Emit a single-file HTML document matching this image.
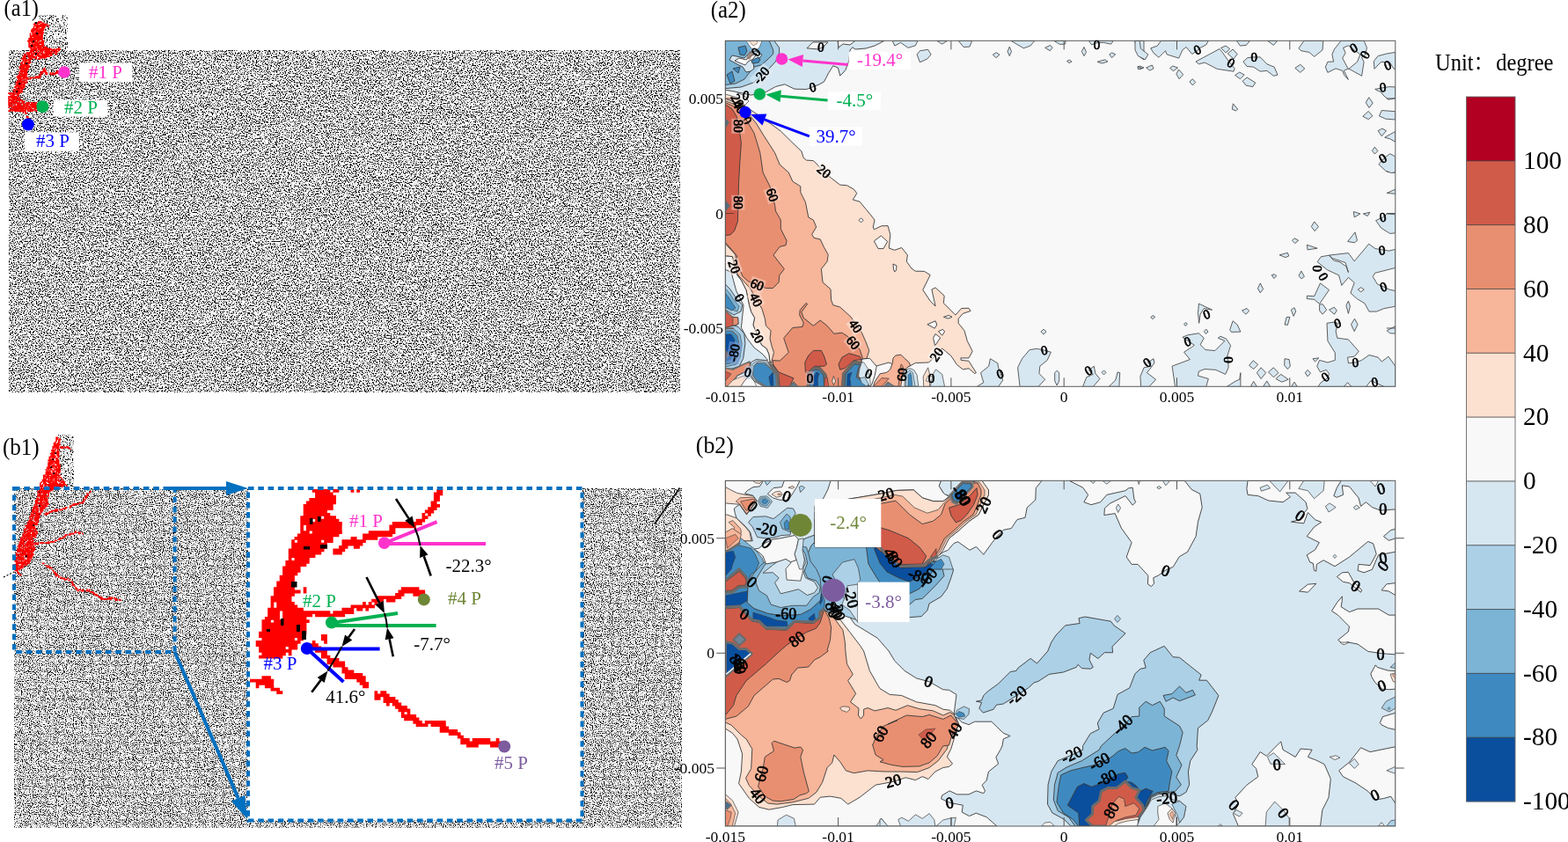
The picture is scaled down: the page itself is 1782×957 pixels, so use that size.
<!DOCTYPE html>
<html lang="en"><head><meta charset="utf-8"><title>Crack propagation and principal stress direction</title>
<style>
html,body{margin:0;padding:0;background:#fff;}
body{width:1782px;height:957px;overflow:hidden;font-family:"Liberation Serif","Noto Serif CJK SC",serif;}
svg{display:block;position:absolute;left:0;top:0;}
text{font-family:"Liberation Serif","Noto Serif CJK SC",serif;}
</style></head><body>
<svg width="1782" height="957" viewBox="0 0 1782 957">
<!-- base -->
<defs>
<filter id="nzA" x="0" y="0" width="100%" height="100%" filterUnits="objectBoundingBox" color-interpolation-filters="sRGB">
  <feTurbulence type="fractalNoise" baseFrequency="0.7" numOctaves="2" seed="7" result="t"/>
  <feColorMatrix in="t" type="matrix" values="7 0 0 0 -2.5  7 0 0 0 -2.5  7 0 0 0 -2.5  0 0 0 0 1"/>
</filter>
<filter id="nzB" x="0" y="0" width="100%" height="100%" filterUnits="objectBoundingBox" color-interpolation-filters="sRGB">
  <feTurbulence type="fractalNoise" baseFrequency="0.9" numOctaves="2" seed="23" result="t"/>
  <feColorMatrix in="t" type="matrix" values="5 0 0 0 -1.58  5 0 0 0 -1.58  5 0 0 0 -1.58  0 0 0 0 1"/>
</filter>
<filter id="nzC" x="0" y="0" width="100%" height="100%" filterUnits="objectBoundingBox" color-interpolation-filters="sRGB">
  <feTurbulence type="fractalNoise" baseFrequency="0.62" numOctaves="2" seed="3" result="t"/>
  <feColorMatrix in="t" type="matrix" values="7 0 0 0 -2.3  7 0 0 0 -2.3  7 0 0 0 -2.3  0 0 0 0 1"/>
</filter>
</defs><rect x="0" y="0" width="1782" height="957" fill="#fff"/><text transform="translate(4.6,17.8) scale(1,1.15)" font-size="24.5">(a1)</text><text transform="translate(807.7,19.5) scale(1,1.06)" font-size="24.9">(a2)</text><text transform="translate(2.9,517) scale(1,1.1)" font-size="25.1">(b1)</text><text transform="translate(790.8,514.7) scale(1,1.03)" font-size="25.8">(b2)</text><rect x="1666.5" y="110.00" width="55.5" height="73.12" fill="#b20022"/><rect x="1666.5" y="182.82" width="55.5" height="73.12" fill="#d15b49"/><rect x="1666.5" y="255.64" width="55.5" height="73.12" fill="#e98f71"/><rect x="1666.5" y="328.45" width="55.5" height="73.12" fill="#f7b599"/><rect x="1666.5" y="401.27" width="55.5" height="73.12" fill="#fce0d0"/><rect x="1666.5" y="474.09" width="55.5" height="73.12" fill="#f8f8f8"/><rect x="1666.5" y="546.91" width="55.5" height="73.12" fill="#d7e7f1"/><rect x="1666.5" y="619.73" width="55.5" height="73.12" fill="#acd0e6"/><rect x="1666.5" y="692.55" width="55.5" height="73.12" fill="#7cb4d6"/><rect x="1666.5" y="765.36" width="55.5" height="73.12" fill="#3e8ac0"/><rect x="1666.5" y="838.18" width="55.5" height="73.12" fill="#0a4e9e"/><line x1="1666.5" y1="182.82" x2="1722" y2="182.82" stroke="#3a3a3a" stroke-width="0.8"/><line x1="1666.5" y1="255.64" x2="1722" y2="255.64" stroke="#3a3a3a" stroke-width="0.8"/><line x1="1666.5" y1="328.45" x2="1722" y2="328.45" stroke="#3a3a3a" stroke-width="0.8"/><line x1="1666.5" y1="401.27" x2="1722" y2="401.27" stroke="#3a3a3a" stroke-width="0.8"/><line x1="1666.5" y1="474.09" x2="1722" y2="474.09" stroke="#3a3a3a" stroke-width="0.8"/><line x1="1666.5" y1="546.91" x2="1722" y2="546.91" stroke="#3a3a3a" stroke-width="0.8"/><line x1="1666.5" y1="619.73" x2="1722" y2="619.73" stroke="#3a3a3a" stroke-width="0.8"/><line x1="1666.5" y1="692.55" x2="1722" y2="692.55" stroke="#3a3a3a" stroke-width="0.8"/><line x1="1666.5" y1="765.36" x2="1722" y2="765.36" stroke="#3a3a3a" stroke-width="0.8"/><line x1="1666.5" y1="838.18" x2="1722" y2="838.18" stroke="#3a3a3a" stroke-width="0.8"/><rect x="1666.5" y="110" width="55.5" height="801" fill="none" stroke="#666" stroke-width="0.9"/><text x="1731" y="192.0" font-size="29.3" fill="#000">100</text><text x="1731" y="264.8" font-size="29.3" fill="#000">80</text><text x="1731" y="337.7" font-size="29.3" fill="#000">60</text><text x="1731" y="410.5" font-size="29.3" fill="#000">40</text><text x="1731" y="483.3" font-size="29.3" fill="#000">20</text><text x="1731" y="556.1" font-size="29.3" fill="#000">0</text><text x="1731" y="628.9" font-size="29.3" fill="#000">-20</text><text x="1731" y="701.7" font-size="29.3" fill="#000">-40</text><text x="1731" y="774.6" font-size="29.3" fill="#000">-60</text><text x="1731" y="847.4" font-size="29.3" fill="#000">-80</text><text x="1731" y="920.2" font-size="29.3" fill="#000">-100</text><g transform="translate(0,80.3) scale(1,1.11)" font-size="24.5" fill="#000"><text x="1631" y="0" xml:space="preserve">Unit：<tspan x="1700.2">degree</tspan></text></g>
<!-- left_a1 -->
<rect x="10" y="57" width="763" height="389" fill="#fff" filter="url(#nzA)"/><g filter="url(#nzC)"><polygon points="45,17 72,18 77,30 77,50 70,45 60,57 44,57" fill="#fff"/></g><path d="M43.1 24.1h4.4v1.80h-4.4zM39.0 25.4h7.0v1.80h-7.0zM47.2 25.4h3.0v1.80h-3.0zM37.7 26.8h3.0v1.80h-3.0zM41.8 26.8h1.7v1.80h-1.7zM45.8 26.8h8.4v1.80h-8.4zM39.0 28.1h13.8v1.80h-13.8zM53.9 28.1h1.7v1.80h-1.7zM37.7 29.5h1.7v1.80h-1.7zM40.4 29.5h11.1v1.80h-11.1zM53.9 29.5h1.7v1.80h-1.7zM37.7 30.8h1.7v1.80h-1.7zM40.4 30.8h4.4v1.80h-4.4zM47.2 30.8h4.4v1.80h-4.4zM36.4 32.1h7.0v1.80h-7.0zM44.5 32.1h5.7v1.80h-5.7zM35.0 33.5h15.2v1.80h-15.2zM35.0 34.9h4.4v1.80h-4.4zM40.4 34.9h8.4v1.80h-8.4zM36.4 36.2h1.7v1.80h-1.7zM39.0 36.2h3.0v1.80h-3.0zM43.1 36.2h7.0v1.80h-7.0zM33.7 37.5h1.7v1.80h-1.7zM36.4 37.5h12.5v1.80h-12.5zM33.7 38.9h1.7v1.80h-1.7zM36.4 38.9h8.4v1.80h-8.4zM45.8 38.9h3.0v1.80h-3.0zM33.7 40.2h15.2v1.80h-15.2zM33.7 41.6h3.0v1.80h-3.0zM37.7 41.6h11.1v1.80h-11.1zM32.3 43.0h16.5v1.80h-16.5zM32.3 44.3h16.5v1.80h-16.5zM31.0 45.7h9.8v1.80h-9.8zM41.8 45.7h3.0v1.80h-3.0zM47.2 45.7h3.0v1.80h-3.0zM32.3 47.0h1.7v1.80h-1.7zM35.0 47.0h8.4v1.80h-8.4zM44.5 47.0h5.7v1.80h-5.7zM32.3 48.4h3.0v1.80h-3.0zM36.4 48.4h1.7v1.80h-1.7zM39.0 48.4h11.1v1.80h-11.1zM32.3 49.7h1.7v1.80h-1.7zM35.0 49.7h9.8v1.80h-9.8zM47.2 49.7h3.0v1.80h-3.0zM32.3 51.0h17.9v1.80h-17.9zM32.3 52.4h8.4v1.80h-8.4zM41.8 52.4h7.0v1.80h-7.0zM49.9 52.4h3.0v1.80h-3.0zM33.7 53.8h3.0v1.80h-3.0zM37.7 53.8h9.8v1.80h-9.8zM48.5 53.8h7.0v1.80h-7.0zM66.1 53.8h1.7v1.80h-1.7zM35.0 55.1h7.0v1.80h-7.0zM43.1 55.1h16.5v1.80h-16.5zM60.7 55.1h1.7v1.80h-1.7zM63.4 55.1h5.7v1.80h-5.7zM33.7 56.5h5.7v1.80h-5.7zM40.4 56.5h3.0v1.80h-3.0zM44.5 56.5h5.7v1.80h-5.7zM51.2 56.5h5.7v1.80h-5.7zM58.0 56.5h7.0v1.80h-7.0zM66.1 56.5h1.7v1.80h-1.7zM33.7 57.8h4.4v1.80h-4.4zM40.4 57.8h1.7v1.80h-1.7zM44.5 57.8h4.4v1.80h-4.4zM49.9 57.8h8.4v1.80h-8.4zM59.3 57.8h1.7v1.80h-1.7zM62.0 57.8h4.4v1.80h-4.4zM29.6 59.2h7.0v1.80h-7.0zM37.7 59.2h8.4v1.80h-8.4zM47.2 59.2h1.7v1.80h-1.7zM51.2 59.2h8.4v1.80h-8.4zM60.7 59.2h1.7v1.80h-1.7zM63.4 59.2h1.7v1.80h-1.7zM26.9 60.5h1.7v1.80h-1.7zM29.6 60.5h4.4v1.80h-4.4zM35.0 60.5h9.8v1.80h-9.8zM45.8 60.5h13.8v1.80h-13.8zM62.0 60.5h3.0v1.80h-3.0zM26.9 61.9h3.0v1.80h-3.0zM31.0 61.9h7.0v1.80h-7.0zM41.8 61.9h4.4v1.80h-4.4zM47.2 61.9h8.4v1.80h-8.4zM56.6 61.9h3.0v1.80h-3.0zM25.6 63.2h4.4v1.80h-4.4zM31.0 63.2h8.4v1.80h-8.4zM40.4 63.2h1.7v1.80h-1.7zM43.1 63.2h13.8v1.80h-13.8zM25.6 64.6h4.4v1.80h-4.4zM32.3 64.6h3.0v1.80h-3.0zM36.4 64.6h5.7v1.80h-5.7zM44.5 64.6h8.4v1.80h-8.4zM24.2 65.9h5.7v1.80h-5.7zM32.3 65.9h4.4v1.80h-4.4zM40.4 65.9h1.7v1.80h-1.7zM43.1 65.9h3.0v1.80h-3.0zM25.6 67.2h1.7v1.80h-1.7zM28.2 67.2h7.0v1.80h-7.0zM25.6 68.6h5.7v1.80h-5.7zM32.3 68.6h1.7v1.80h-1.7zM24.2 70.0h1.7v1.80h-1.7zM28.2 70.0h1.7v1.80h-1.7zM31.0 70.0h4.4v1.80h-4.4zM22.9 71.3h3.0v1.80h-3.0zM26.9 71.3h4.4v1.80h-4.4zM32.3 71.3h1.7v1.80h-1.7zM24.2 72.7h8.4v1.80h-8.4zM22.9 74.0h11.1v1.80h-11.1zM21.5 75.3h7.0v1.80h-7.0zM29.6 75.3h4.4v1.80h-4.4zM21.5 76.7h1.7v1.80h-1.7zM24.2 76.7h8.4v1.80h-8.4zM49.9 76.7h1.7v1.80h-1.7zM22.9 78.1h3.0v1.80h-3.0zM26.9 78.1h5.7v1.80h-5.7zM48.5 78.1h3.0v1.80h-3.0zM22.9 79.4h8.4v1.80h-8.4zM48.5 79.4h4.4v1.80h-4.4zM64.7 79.4h1.7v1.80h-1.7zM21.5 80.8h9.8v1.80h-9.8zM45.8 80.8h7.0v1.80h-7.0zM63.4 80.8h4.4v1.80h-4.4zM21.5 82.1h1.7v1.80h-1.7zM24.2 82.1h1.7v1.80h-1.7zM26.9 82.1h4.4v1.80h-4.4zM45.8 82.1h3.0v1.80h-3.0zM51.2 82.1h3.0v1.80h-3.0zM56.6 82.1h1.7v1.80h-1.7zM59.3 82.1h1.7v1.80h-1.7zM62.0 82.1h4.4v1.80h-4.4zM21.5 83.5h9.8v1.80h-9.8zM44.5 83.5h3.0v1.80h-3.0zM51.2 83.5h3.0v1.80h-3.0zM56.6 83.5h7.0v1.80h-7.0zM20.1 84.8h3.0v1.80h-3.0zM24.2 84.8h7.0v1.80h-7.0zM44.5 84.8h3.0v1.80h-3.0zM18.8 86.2h11.1v1.80h-11.1zM40.4 86.2h5.7v1.80h-5.7zM18.8 87.5h5.7v1.80h-5.7zM25.6 87.5h7.0v1.80h-7.0zM33.7 87.5h12.5v1.80h-12.5zM20.1 88.9h8.4v1.80h-8.4zM29.6 88.9h3.0v1.80h-3.0zM33.7 88.9h1.7v1.80h-1.7zM20.1 90.2h1.7v1.80h-1.7zM22.9 90.2h1.7v1.80h-1.7zM28.2 90.2h1.7v1.80h-1.7zM18.8 91.6h9.8v1.80h-9.8zM29.6 91.6h1.7v1.80h-1.7zM17.5 92.9h7.0v1.80h-7.0zM25.6 92.9h5.7v1.80h-5.7zM18.8 94.2h7.0v1.80h-7.0zM26.9 94.2h1.7v1.80h-1.7zM17.5 95.6h11.1v1.80h-11.1zM17.5 97.0h7.0v1.80h-7.0zM25.6 97.0h3.0v1.80h-3.0zM16.1 98.3h3.0v1.80h-3.0zM20.1 98.3h8.4v1.80h-8.4zM17.5 99.7h3.0v1.80h-3.0zM21.5 99.7h5.7v1.80h-5.7zM14.8 101.0h1.7v1.80h-1.7zM17.5 101.0h5.7v1.80h-5.7zM24.2 101.0h1.7v1.80h-1.7zM14.8 102.4h3.0v1.80h-3.0zM20.1 102.4h5.7v1.80h-5.7zM16.1 103.7h9.8v1.80h-9.8zM9.3 105.1h7.0v1.80h-7.0zM17.5 105.1h5.7v1.80h-5.7zM10.7 106.4h1.7v1.80h-1.7zM13.4 106.4h4.4v1.80h-4.4zM18.8 106.4h3.0v1.80h-3.0zM12.1 107.8h4.4v1.80h-4.4zM18.8 107.8h3.0v1.80h-3.0zM9.3 109.1h11.1v1.80h-11.1zM9.3 110.5h1.7v1.80h-1.7zM12.1 110.5h7.0v1.80h-7.0zM20.1 110.5h3.0v1.80h-3.0zM9.3 111.8h3.0v1.80h-3.0zM13.4 111.8h9.8v1.80h-9.8zM9.3 113.2h7.0v1.80h-7.0zM17.5 113.2h8.4v1.80h-8.4zM9.3 114.5h1.7v1.80h-1.7zM12.1 114.5h7.0v1.80h-7.0zM21.5 114.5h1.7v1.80h-1.7zM24.2 114.5h4.4v1.80h-4.4zM9.3 115.9h12.5v1.80h-12.5zM24.2 115.9h3.0v1.80h-3.0zM29.6 115.9h4.4v1.80h-4.4zM35.0 115.9h3.0v1.80h-3.0zM39.0 115.9h3.0v1.80h-3.0zM9.3 117.2h3.0v1.80h-3.0zM14.8 117.2h1.7v1.80h-1.7zM18.8 117.2h5.7v1.80h-5.7zM25.6 117.2h3.0v1.80h-3.0zM29.6 117.2h4.4v1.80h-4.4zM35.0 117.2h5.7v1.80h-5.7zM9.3 118.6h5.7v1.80h-5.7zM16.1 118.6h1.7v1.80h-1.7zM18.8 118.6h5.7v1.80h-5.7zM25.6 118.6h7.0v1.80h-7.0zM33.7 118.6h8.4v1.80h-8.4zM10.7 119.9h3.0v1.80h-3.0zM14.8 119.9h9.8v1.80h-9.8zM25.6 119.9h3.0v1.80h-3.0zM29.6 119.9h4.4v1.80h-4.4zM35.0 119.9h7.0v1.80h-7.0zM9.3 121.2h1.7v1.80h-1.7zM13.4 121.2h4.4v1.80h-4.4zM18.8 121.2h8.4v1.80h-8.4zM28.2 121.2h3.0v1.80h-3.0zM32.3 121.2h3.0v1.80h-3.0zM36.4 121.2h7.0v1.80h-7.0zM12.1 122.6h1.7v1.80h-1.7zM14.8 122.6h21.9v1.80h-21.9zM39.0 122.6h3.0v1.80h-3.0zM10.7 124.0h11.1v1.80h-11.1zM22.9 124.0h4.4v1.80h-4.4zM28.2 124.0h1.7v1.80h-1.7zM31.0 124.0h1.7v1.80h-1.7zM33.7 124.0h7.0v1.80h-7.0zM9.3 125.3h3.0v1.80h-3.0zM13.4 125.3h1.7v1.80h-1.7zM16.1 125.3h13.8v1.80h-13.8zM31.0 125.3h7.0v1.80h-7.0zM40.4 125.3h1.7v1.80h-1.7zM25.6 126.7h1.7v1.80h-1.7zM28.2 126.7h1.7v1.80h-1.7zM28.2 128.0h3.0v1.80h-3.0zM29.6 132.1h3.0v1.80h-3.0zM31.0 133.4h1.7v1.80h-1.7zM31.0 134.8h1.7v1.80h-1.7zM31.0 136.1h1.7v1.80h-1.7z" fill="#ff0000"/><rect x="40" y="25" width="2.2" height="2.2" fill="#000"/><rect x="41" y="37" width="2.2" height="2.2" fill="#000"/><rect x="37" y="46" width="2.2" height="2.2" fill="#000"/><rect x="40" y="60" width="2.2" height="2.2" fill="#000"/><rect x="21" y="94" width="2.2" height="2.2" fill="#000"/><rect x="18" y="103" width="2.2" height="2.2" fill="#000"/><rect x="35" y="51" width="2.2" height="2.2" fill="#000"/><rect x="29" y="71" width="2.2" height="2.2" fill="#000"/><circle cx="73" cy="82" r="6.8" fill="#ff33cc"/><circle cx="48.4" cy="121.3" r="7" fill="#00b050"/><circle cx="32" cy="141.5" r="7" fill="#0000ff"/><rect x="90" y="71.5" width="60.400000000000006" height="21.700000000000003" fill="#fff"/><text x="101" y="88.8" font-size="21" fill="#ff33cc" xml:space="preserve">#1 P</text><rect x="60.6" y="113.5" width="61.699999999999996" height="19.0" fill="#fff"/><text x="73" y="128.7" font-size="21" fill="#00b050" xml:space="preserve">#2 P</text><rect x="28" y="150.5" width="61.8" height="21.30000000000001" fill="#fff"/><text x="41" y="167.4" font-size="21" fill="#0000ff" xml:space="preserve">#3 P</text>
<!-- left_b1 -->
<rect x="16" y="555" width="759" height="386" fill="#fff" filter="url(#nzB)"/><g filter="url(#nzC)"><polygon points="70,495 79,494 84,515 84,547 80,556 66,556 68,520" fill="#fff"/></g><line x1="772.5" y1="554.5" x2="744" y2="595.5" stroke="#000" stroke-width="1.6"/><line x1="4" y1="656" x2="16" y2="650" stroke="#000" stroke-width="1.2" stroke-dasharray="2 2"/><path d="M63.3 496.6h2.9v1.75h-2.9zM63.3 497.9h2.9v1.75h-2.9zM67.2 497.9h1.6v1.75h-1.6zM63.3 499.2h1.6v1.75h-1.6zM65.9 499.2h2.9v1.75h-2.9zM63.3 500.5h1.6v1.75h-1.6zM65.9 500.5h1.6v1.75h-1.6zM62.0 501.8h1.6v1.75h-1.6zM65.9 501.8h2.9v1.75h-2.9zM60.7 503.1h2.9v1.75h-2.9zM64.6 503.1h2.9v1.75h-2.9zM60.7 504.4h8.1v1.75h-8.1zM60.7 505.7h6.8v1.75h-6.8zM59.4 507.0h8.1v1.75h-8.1zM68.5 507.0h2.9v1.75h-2.9zM72.4 507.0h1.6v1.75h-1.6zM75.0 507.0h2.9v1.75h-2.9zM59.4 508.3h2.9v1.75h-2.9zM63.3 508.3h4.2v1.75h-4.2zM68.5 508.3h4.2v1.75h-4.2zM73.7 508.3h1.6v1.75h-1.6zM76.3 508.3h2.9v1.75h-2.9zM59.4 509.6h1.6v1.75h-1.6zM62.0 509.6h1.6v1.75h-1.6zM64.6 509.6h2.9v1.75h-2.9zM78.9 509.6h1.6v1.75h-1.6zM58.1 510.9h5.5v1.75h-5.5zM64.6 510.9h1.6v1.75h-1.6zM59.4 512.2h2.9v1.75h-2.9zM64.6 512.2h2.9v1.75h-2.9zM58.1 513.5h9.4v1.75h-9.4zM56.8 514.8h5.5v1.75h-5.5zM63.3 514.8h4.2v1.75h-4.2zM58.1 516.1h4.2v1.75h-4.2zM64.6 516.1h2.9v1.75h-2.9zM56.8 517.4h6.8v1.75h-6.8zM64.6 517.4h2.9v1.75h-2.9zM55.5 518.7h8.1v1.75h-8.1zM65.9 518.7h1.6v1.75h-1.6zM55.5 520.0h1.6v1.75h-1.6zM59.4 520.0h2.9v1.75h-2.9zM63.3 520.0h2.9v1.75h-2.9zM55.5 521.3h4.2v1.75h-4.2zM63.3 521.3h2.9v1.75h-2.9zM54.2 522.6h8.1v1.75h-8.1zM63.3 522.6h4.2v1.75h-4.2zM55.5 523.9h12.0v1.75h-12.0zM54.2 525.2h6.8v1.75h-6.8zM62.0 525.2h5.5v1.75h-5.5zM54.2 526.5h5.5v1.75h-5.5zM60.7 526.5h1.6v1.75h-1.6zM63.3 526.5h4.2v1.75h-4.2zM54.2 527.8h4.2v1.75h-4.2zM59.4 527.8h2.9v1.75h-2.9zM64.6 527.8h4.2v1.75h-4.2zM54.2 529.1h2.9v1.75h-2.9zM58.1 529.1h10.7v1.75h-10.7zM52.9 530.4h8.1v1.75h-8.1zM62.0 530.4h2.9v1.75h-2.9zM65.9 530.4h2.9v1.75h-2.9zM52.9 531.7h5.5v1.75h-5.5zM60.7 531.7h1.6v1.75h-1.6zM63.3 531.7h5.5v1.75h-5.5zM51.6 533.0h1.6v1.75h-1.6zM54.2 533.0h1.6v1.75h-1.6zM56.8 533.0h2.9v1.75h-2.9zM62.0 533.0h5.5v1.75h-5.5zM52.9 534.3h1.6v1.75h-1.6zM55.5 534.3h1.6v1.75h-1.6zM59.4 534.3h2.9v1.75h-2.9zM63.3 534.3h5.5v1.75h-5.5zM51.6 535.6h6.8v1.75h-6.8zM59.4 535.6h2.9v1.75h-2.9zM63.3 535.6h5.5v1.75h-5.5zM51.6 536.9h6.8v1.75h-6.8zM59.4 536.9h5.5v1.75h-5.5zM65.9 536.9h1.6v1.75h-1.6zM51.6 538.2h8.1v1.75h-8.1zM60.7 538.2h5.5v1.75h-5.5zM49.0 539.5h2.9v1.75h-2.9zM52.9 539.5h2.9v1.75h-2.9zM58.1 539.5h10.7v1.75h-10.7zM49.0 540.8h15.9v1.75h-15.9zM65.9 540.8h1.6v1.75h-1.6zM49.0 542.1h1.6v1.75h-1.6zM51.6 542.1h4.2v1.75h-4.2zM56.8 542.1h9.4v1.75h-9.4zM67.2 542.1h2.9v1.75h-2.9zM49.0 543.4h4.2v1.75h-4.2zM54.2 543.4h6.8v1.75h-6.8zM62.0 543.4h2.9v1.75h-2.9zM65.9 543.4h1.6v1.75h-1.6zM69.8 543.4h1.6v1.75h-1.6zM47.7 544.7h5.5v1.75h-5.5zM54.2 544.7h1.6v1.75h-1.6zM56.8 544.7h2.9v1.75h-2.9zM60.7 544.7h6.8v1.75h-6.8zM69.8 544.7h1.6v1.75h-1.6zM47.7 546.0h13.3v1.75h-13.3zM62.0 546.0h2.9v1.75h-2.9zM65.9 546.0h4.2v1.75h-4.2zM71.1 546.0h1.6v1.75h-1.6zM46.4 547.3h1.6v1.75h-1.6zM49.0 547.3h2.9v1.75h-2.9zM54.2 547.3h4.2v1.75h-4.2zM59.4 547.3h5.5v1.75h-5.5zM69.8 547.3h4.2v1.75h-4.2zM45.1 548.6h1.6v1.75h-1.6zM49.0 548.6h4.2v1.75h-4.2zM55.5 548.6h10.7v1.75h-10.7zM67.2 548.6h2.9v1.75h-2.9zM71.1 548.6h2.9v1.75h-2.9zM45.1 549.9h1.6v1.75h-1.6zM47.7 549.9h1.6v1.75h-1.6zM50.3 549.9h25.0v1.75h-25.0zM45.1 551.2h4.2v1.75h-4.2zM50.3 551.2h2.9v1.75h-2.9zM54.2 551.2h18.5v1.75h-18.5zM75.0 551.2h1.6v1.75h-1.6zM45.1 552.5h4.2v1.75h-4.2zM51.6 552.5h1.6v1.75h-1.6zM54.2 552.5h13.3v1.75h-13.3zM69.8 552.5h1.6v1.75h-1.6zM46.4 553.8h1.6v1.75h-1.6zM49.0 553.8h2.9v1.75h-2.9zM52.9 553.8h10.7v1.75h-10.7zM43.8 555.1h2.9v1.75h-2.9zM47.7 555.1h1.6v1.75h-1.6zM51.6 555.1h5.5v1.75h-5.5zM58.1 555.1h4.2v1.75h-4.2zM43.8 556.4h15.9v1.75h-15.9zM42.5 557.7h1.6v1.75h-1.6zM45.1 557.7h1.6v1.75h-1.6zM47.7 557.7h9.4v1.75h-9.4zM102.3 557.7h1.6v1.75h-1.6zM42.5 559.0h1.6v1.75h-1.6zM45.1 559.0h10.7v1.75h-10.7zM101.0 559.0h1.6v1.75h-1.6zM43.8 560.3h2.9v1.75h-2.9zM49.0 560.3h4.2v1.75h-4.2zM54.2 560.3h1.6v1.75h-1.6zM98.4 560.3h1.6v1.75h-1.6zM42.5 561.6h4.2v1.75h-4.2zM47.7 561.6h4.2v1.75h-4.2zM54.2 561.6h1.6v1.75h-1.6zM98.4 561.6h2.9v1.75h-2.9zM42.5 562.9h13.3v1.75h-13.3zM97.1 562.9h2.9v1.75h-2.9zM45.1 564.2h6.8v1.75h-6.8zM95.8 564.2h2.9v1.75h-2.9zM41.2 565.5h2.9v1.75h-2.9zM45.1 565.5h4.2v1.75h-4.2zM50.3 565.5h4.2v1.75h-4.2zM97.1 565.5h1.6v1.75h-1.6zM41.2 566.8h13.3v1.75h-13.3zM94.5 566.8h2.9v1.75h-2.9zM39.9 568.1h4.2v1.75h-4.2zM45.1 568.1h4.2v1.75h-4.2zM50.3 568.1h4.2v1.75h-4.2zM94.5 568.1h1.6v1.75h-1.6zM39.9 569.4h2.9v1.75h-2.9zM45.1 569.4h2.9v1.75h-2.9zM49.0 569.4h1.6v1.75h-1.6zM51.6 569.4h2.9v1.75h-2.9zM93.2 569.4h2.9v1.75h-2.9zM39.9 570.7h14.6v1.75h-14.6zM89.3 570.7h5.5v1.75h-5.5zM39.9 572.0h2.9v1.75h-2.9zM43.8 572.0h4.2v1.75h-4.2zM50.3 572.0h5.5v1.75h-5.5zM82.8 572.0h6.8v1.75h-6.8zM38.6 573.3h1.6v1.75h-1.6zM45.1 573.3h5.5v1.75h-5.5zM51.6 573.3h1.6v1.75h-1.6zM81.5 573.3h4.2v1.75h-4.2zM38.6 574.6h6.8v1.75h-6.8zM46.4 574.6h8.1v1.75h-8.1zM78.9 574.6h2.9v1.75h-2.9zM37.3 575.9h5.5v1.75h-5.5zM45.1 575.9h6.8v1.75h-6.8zM73.7 575.9h2.9v1.75h-2.9zM78.9 575.9h1.6v1.75h-1.6zM37.3 577.2h2.9v1.75h-2.9zM41.2 577.2h2.9v1.75h-2.9zM45.1 577.2h5.5v1.75h-5.5zM71.1 577.2h4.2v1.75h-4.2zM36.0 578.5h2.9v1.75h-2.9zM39.9 578.5h4.2v1.75h-4.2zM45.1 578.5h4.2v1.75h-4.2zM62.0 578.5h4.2v1.75h-4.2zM67.2 578.5h4.2v1.75h-4.2zM36.0 579.8h4.2v1.75h-4.2zM41.2 579.8h2.9v1.75h-2.9zM45.1 579.8h4.2v1.75h-4.2zM58.1 579.8h8.1v1.75h-8.1zM36.0 581.1h6.8v1.75h-6.8zM46.4 581.1h1.6v1.75h-1.6zM55.5 581.1h4.2v1.75h-4.2zM34.7 582.4h1.6v1.75h-1.6zM37.3 582.4h1.6v1.75h-1.6zM39.9 582.4h6.8v1.75h-6.8zM51.6 582.4h4.2v1.75h-4.2zM34.7 583.7h4.2v1.75h-4.2zM39.9 583.7h4.2v1.75h-4.2zM45.1 583.7h1.6v1.75h-1.6zM50.3 583.7h4.2v1.75h-4.2zM34.7 585.0h5.5v1.75h-5.5zM41.2 585.0h4.2v1.75h-4.2zM33.4 586.3h4.2v1.75h-4.2zM39.9 586.3h5.5v1.75h-5.5zM33.4 587.6h1.6v1.75h-1.6zM36.0 587.6h1.6v1.75h-1.6zM38.6 587.6h6.8v1.75h-6.8zM33.4 588.9h4.2v1.75h-4.2zM38.6 588.9h5.5v1.75h-5.5zM33.4 590.2h1.6v1.75h-1.6zM38.6 590.2h5.5v1.75h-5.5zM32.1 591.5h5.5v1.75h-5.5zM39.9 591.5h1.6v1.75h-1.6zM42.5 591.5h1.6v1.75h-1.6zM30.8 592.8h1.6v1.75h-1.6zM33.4 592.8h6.8v1.75h-6.8zM41.2 592.8h2.9v1.75h-2.9zM30.8 594.1h12.0v1.75h-12.0zM30.8 595.4h12.0v1.75h-12.0zM28.2 596.7h10.7v1.75h-10.7zM29.5 598.0h1.6v1.75h-1.6zM32.1 598.0h8.1v1.75h-8.1zM29.5 599.3h10.7v1.75h-10.7zM26.9 600.6h4.2v1.75h-4.2zM32.1 600.6h4.2v1.75h-4.2zM37.3 600.6h4.2v1.75h-4.2zM26.9 601.9h1.6v1.75h-1.6zM30.8 601.9h8.1v1.75h-8.1zM39.9 601.9h1.6v1.75h-1.6zM28.2 603.2h4.2v1.75h-4.2zM33.4 603.2h2.9v1.75h-2.9zM37.3 603.2h1.6v1.75h-1.6zM39.9 603.2h2.9v1.75h-2.9zM85.4 603.2h1.6v1.75h-1.6zM26.9 604.5h2.9v1.75h-2.9zM30.8 604.5h4.2v1.75h-4.2zM36.0 604.5h4.2v1.75h-4.2zM41.2 604.5h1.6v1.75h-1.6zM84.1 604.5h2.9v1.75h-2.9zM88.0 604.5h4.2v1.75h-4.2zM25.6 605.8h2.9v1.75h-2.9zM29.5 605.8h5.5v1.75h-5.5zM36.0 605.8h6.8v1.75h-6.8zM78.9 605.8h5.5v1.75h-5.5zM89.3 605.8h1.6v1.75h-1.6zM93.2 605.8h1.6v1.75h-1.6zM25.6 607.1h1.6v1.75h-1.6zM28.2 607.1h13.3v1.75h-13.3zM73.7 607.1h2.9v1.75h-2.9zM77.6 607.1h2.9v1.75h-2.9zM25.6 608.4h9.4v1.75h-9.4zM36.0 608.4h4.2v1.75h-4.2zM72.4 608.4h2.9v1.75h-2.9zM24.3 609.7h5.5v1.75h-5.5zM30.8 609.7h6.8v1.75h-6.8zM38.6 609.7h2.9v1.75h-2.9zM71.1 609.7h2.9v1.75h-2.9zM23.0 611.0h2.9v1.75h-2.9zM26.9 611.0h1.6v1.75h-1.6zM29.5 611.0h4.2v1.75h-4.2zM34.7 611.0h2.9v1.75h-2.9zM67.2 611.0h4.2v1.75h-4.2zM23.0 612.3h4.2v1.75h-4.2zM28.2 612.3h2.9v1.75h-2.9zM32.1 612.3h4.2v1.75h-4.2zM65.9 612.3h2.9v1.75h-2.9zM23.0 613.6h8.1v1.75h-8.1zM32.1 613.6h2.9v1.75h-2.9zM36.0 613.6h2.9v1.75h-2.9zM62.0 613.6h2.9v1.75h-2.9zM21.7 614.9h2.9v1.75h-2.9zM25.6 614.9h1.6v1.75h-1.6zM30.8 614.9h6.8v1.75h-6.8zM54.2 614.9h1.6v1.75h-1.6zM56.8 614.9h5.5v1.75h-5.5zM21.7 616.2h6.8v1.75h-6.8zM29.5 616.2h6.8v1.75h-6.8zM37.3 616.2h1.6v1.75h-1.6zM39.9 616.2h1.6v1.75h-1.6zM42.5 616.2h1.6v1.75h-1.6zM45.1 616.2h5.5v1.75h-5.5zM51.6 616.2h5.5v1.75h-5.5zM21.7 617.5h5.5v1.75h-5.5zM29.5 617.5h14.6v1.75h-14.6zM20.4 618.8h4.2v1.75h-4.2zM25.6 618.8h8.1v1.75h-8.1zM34.7 618.8h2.9v1.75h-2.9zM20.4 620.1h4.2v1.75h-4.2zM25.6 620.1h2.9v1.75h-2.9zM29.5 620.1h2.9v1.75h-2.9zM33.4 620.1h2.9v1.75h-2.9zM37.3 620.1h1.6v1.75h-1.6zM20.4 621.4h2.9v1.75h-2.9zM24.3 621.4h2.9v1.75h-2.9zM28.2 621.4h1.6v1.75h-1.6zM30.8 621.4h6.8v1.75h-6.8zM38.6 621.4h1.6v1.75h-1.6zM20.4 622.7h4.2v1.75h-4.2zM25.6 622.7h14.6v1.75h-14.6zM19.1 624.0h6.8v1.75h-6.8zM28.2 624.0h5.5v1.75h-5.5zM36.0 624.0h4.2v1.75h-4.2zM19.1 625.3h19.8v1.75h-19.8zM19.1 626.6h4.2v1.75h-4.2zM24.3 626.6h13.3v1.75h-13.3zM17.8 627.9h1.6v1.75h-1.6zM23.0 627.9h1.6v1.75h-1.6zM25.6 627.9h4.2v1.75h-4.2zM30.8 627.9h2.9v1.75h-2.9zM34.7 627.9h2.9v1.75h-2.9zM17.8 629.2h21.1v1.75h-21.1zM17.8 630.5h2.9v1.75h-2.9zM23.0 630.5h4.2v1.75h-4.2zM28.2 630.5h9.4v1.75h-9.4zM20.4 631.8h4.2v1.75h-4.2zM25.6 631.8h1.6v1.75h-1.6zM28.2 631.8h9.4v1.75h-9.4zM16.5 633.1h10.7v1.75h-10.7zM30.8 633.1h5.5v1.75h-5.5zM16.5 634.4h2.9v1.75h-2.9zM20.4 634.4h8.1v1.75h-8.1zM30.8 634.4h2.9v1.75h-2.9zM34.7 634.4h1.6v1.75h-1.6zM16.5 635.7h2.9v1.75h-2.9zM20.4 635.7h6.8v1.75h-6.8zM28.2 635.7h6.8v1.75h-6.8zM16.5 637.0h4.2v1.75h-4.2zM26.9 637.0h5.5v1.75h-5.5zM33.4 637.0h1.6v1.75h-1.6zM17.8 638.3h12.0v1.75h-12.0zM30.8 638.3h2.9v1.75h-2.9zM17.8 639.6h15.9v1.75h-15.9zM47.7 639.6h2.9v1.75h-2.9zM15.2 640.9h5.5v1.75h-5.5zM24.3 640.9h2.9v1.75h-2.9zM28.2 640.9h2.9v1.75h-2.9zM17.8 642.2h4.2v1.75h-4.2zM23.0 642.2h2.9v1.75h-2.9zM26.9 642.2h1.6v1.75h-1.6zM51.6 642.2h1.6v1.75h-1.6zM54.2 642.2h1.6v1.75h-1.6zM15.2 643.5h5.5v1.75h-5.5zM21.7 643.5h5.5v1.75h-5.5zM52.9 643.5h4.2v1.75h-4.2zM16.5 644.8h9.4v1.75h-9.4zM55.5 644.8h4.2v1.75h-4.2zM15.2 646.1h8.1v1.75h-8.1zM16.5 647.4h4.2v1.75h-4.2zM59.4 647.4h1.6v1.75h-1.6zM19.1 648.7h1.6v1.75h-1.6zM60.7 648.7h1.6v1.75h-1.6zM19.1 650.0h2.9v1.75h-2.9zM60.7 650.0h2.9v1.75h-2.9zM20.4 651.3h1.6v1.75h-1.6zM62.0 651.3h2.9v1.75h-2.9zM21.7 652.6h2.9v1.75h-2.9zM62.0 652.6h4.2v1.75h-4.2zM63.3 653.9h1.6v1.75h-1.6zM65.9 653.9h1.6v1.75h-1.6zM65.9 655.2h1.6v1.75h-1.6zM68.5 655.2h1.6v1.75h-1.6zM68.5 656.5h5.5v1.75h-5.5zM76.3 656.5h1.6v1.75h-1.6zM72.4 657.8h4.2v1.75h-4.2zM78.9 657.8h1.6v1.75h-1.6zM77.6 659.1h1.6v1.75h-1.6zM80.2 660.4h2.9v1.75h-2.9zM81.5 661.7h1.6v1.75h-1.6zM81.5 663.0h2.9v1.75h-2.9zM81.5 664.3h2.9v1.75h-2.9zM84.1 665.6h1.6v1.75h-1.6zM85.4 666.9h1.6v1.75h-1.6zM85.4 668.2h2.9v1.75h-2.9zM86.7 669.5h1.6v1.75h-1.6zM89.3 669.5h2.9v1.75h-2.9zM93.2 669.5h1.6v1.75h-1.6zM98.4 669.5h1.6v1.75h-1.6zM101.0 669.5h1.6v1.75h-1.6zM88.0 670.8h1.6v1.75h-1.6zM91.9 670.8h4.2v1.75h-4.2zM97.1 670.8h5.5v1.75h-5.5zM102.3 672.1h4.2v1.75h-4.2zM104.9 673.4h2.9v1.75h-2.9zM106.2 674.7h4.2v1.75h-4.2zM108.8 676.0h2.9v1.75h-2.9zM111.4 677.3h2.9v1.75h-2.9zM112.7 678.6h4.2v1.75h-4.2zM123.1 678.6h5.5v1.75h-5.5zM129.6 678.6h1.6v1.75h-1.6zM114.0 679.9h13.3v1.75h-13.3zM129.6 679.9h4.2v1.75h-4.2zM130.9 681.2h2.9v1.75h-2.9zM134.8 681.2h2.9v1.75h-2.9z" fill="#ff0000"/><rect x="62.2" y="514.2" width="1.8" height="1.8" fill="#000"/><rect x="57.2" y="530.2" width="1.8" height="1.8" fill="#000"/><rect x="60.2" y="537.2" width="1.8" height="1.8" fill="#000"/><rect x="44.2" y="574.2" width="1.8" height="1.8" fill="#000"/><rect x="37.2" y="596.2" width="1.8" height="1.8" fill="#000"/><rect x="29.2" y="631.2" width="1.8" height="1.8" fill="#000"/><rect x="59.2" y="521.2" width="1.8" height="1.8" fill="#000"/><rect x="51.2" y="555.2" width="1.8" height="1.8" fill="#000"/><rect x="16" y="555" width="182.6" height="186" fill="none" stroke="#0070c0" stroke-width="4" stroke-dasharray="6.6 4.7"/><rect x="282" y="555" width="379.5" height="377.5" fill="#fff"/><defs><clipPath id="cIn"><rect x="282" y="555" width="379.5" height="377.5"/></clipPath></defs><g clip-path="url(#cIn)"><path d="M354.8 556.0h20.5v3.82h-20.5zM378.4 556.0h7.0v3.82h-7.0zM398.6 556.0h3.7v3.82h-3.7zM405.3 556.0h3.7v3.82h-3.7zM496.3 556.0h7.0v3.82h-7.0zM358.1 559.4h20.5v3.82h-20.5zM492.9 559.4h10.4v3.82h-10.4zM358.1 562.7h23.9v3.82h-23.9zM492.9 562.7h7.0v3.82h-7.0zM351.4 566.1h30.6v3.82h-30.6zM492.9 566.1h7.0v3.82h-7.0zM348.0 569.5h34.0v3.82h-34.0zM489.6 569.5h7.0v3.82h-7.0zM344.7 572.9h34.0v3.82h-34.0zM489.6 572.9h10.4v3.82h-10.4zM344.7 576.2h34.0v3.82h-34.0zM486.2 576.2h10.4v3.82h-10.4zM344.7 579.6h27.3v3.82h-27.3zM482.8 579.6h10.4v3.82h-10.4zM344.7 583.0h30.6v3.82h-30.6zM479.5 583.0h3.7v3.82h-3.7zM486.2 583.0h3.7v3.82h-3.7zM341.3 586.3h23.9v3.82h-23.9zM368.2 586.3h13.8v3.82h-13.8zM479.5 586.3h7.0v3.82h-7.0zM341.3 589.7h13.8v3.82h-13.8zM358.1 589.7h27.3v3.82h-27.3zM472.7 589.7h10.4v3.82h-10.4zM341.3 593.1h47.5v3.82h-47.5zM445.8 593.1h34.0v3.82h-34.0zM341.3 596.4h3.7v3.82h-3.7zM348.0 596.4h40.7v3.82h-40.7zM442.4 596.4h30.6v3.82h-30.6zM341.3 599.8h3.7v3.82h-3.7zM348.0 599.8h40.7v3.82h-40.7zM442.4 599.8h7.0v3.82h-7.0zM341.3 603.2h10.4v3.82h-10.4zM354.8 603.2h34.0v3.82h-34.0zM418.8 603.2h30.6v3.82h-30.6zM337.9 606.5h47.5v3.82h-47.5zM412.1 606.5h34.0v3.82h-34.0zM334.6 609.9h44.1v3.82h-44.1zM398.6 609.9h7.0v3.82h-7.0zM412.1 609.9h17.2v3.82h-17.2zM331.2 613.3h3.7v3.82h-3.7zM337.9 613.3h27.3v3.82h-27.3zM368.2 613.3h10.4v3.82h-10.4zM388.5 613.3h27.3v3.82h-27.3zM331.2 616.7h40.7v3.82h-40.7zM388.5 616.7h23.9v3.82h-23.9zM331.2 620.0h40.7v3.82h-40.7zM385.1 620.0h10.4v3.82h-10.4zM401.9 620.0h7.0v3.82h-7.0zM327.8 623.4h40.7v3.82h-40.7zM378.4 623.4h13.8v3.82h-13.8zM327.8 626.8h37.4v3.82h-37.4zM378.4 626.8h10.4v3.82h-10.4zM327.8 630.1h30.6v3.82h-30.6zM327.8 633.5h3.7v3.82h-3.7zM334.6 633.5h17.2v3.82h-17.2zM324.4 636.9h27.3v3.82h-27.3zM324.4 640.2h23.9v3.82h-23.9zM321.1 643.6h20.5v3.82h-20.5zM321.1 647.0h20.5v3.82h-20.5zM321.1 650.4h17.2v3.82h-17.2zM317.7 653.7h17.2v3.82h-17.2zM317.7 657.1h17.2v3.82h-17.2zM314.3 660.5h20.5v3.82h-20.5zM314.3 663.8h20.5v3.82h-20.5zM311.0 667.2h23.9v3.82h-23.9zM344.7 667.2h3.7v3.82h-3.7zM455.9 667.2h20.5v3.82h-20.5zM311.0 670.6h30.6v3.82h-30.6zM344.7 670.6h3.7v3.82h-3.7zM452.5 670.6h30.6v3.82h-30.6zM311.0 674.0h23.9v3.82h-23.9zM449.1 674.0h10.4v3.82h-10.4zM469.4 674.0h13.8v3.82h-13.8zM307.6 677.3h23.9v3.82h-23.9zM428.9 677.3h27.3v3.82h-27.3zM476.1 677.3h7.0v3.82h-7.0zM307.6 680.7h23.9v3.82h-23.9zM422.2 680.7h13.8v3.82h-13.8zM439.0 680.7h10.4v3.82h-10.4zM307.6 684.1h3.7v3.82h-3.7zM314.3 684.1h20.5v3.82h-20.5zM412.1 684.1h3.7v3.82h-3.7zM418.8 684.1h3.7v3.82h-3.7zM425.5 684.1h3.7v3.82h-3.7zM307.6 687.4h3.7v3.82h-3.7zM314.3 687.4h23.9v3.82h-23.9zM398.6 687.4h27.3v3.82h-27.3zM304.2 690.8h40.7v3.82h-40.7zM388.5 690.8h13.8v3.82h-13.8zM405.3 690.8h7.0v3.82h-7.0zM415.4 690.8h3.7v3.82h-3.7zM304.2 694.2h13.8v3.82h-13.8zM321.1 694.2h54.2v3.82h-54.2zM378.4 694.2h23.9v3.82h-23.9zM304.2 697.5h13.8v3.82h-13.8zM321.1 697.5h34.0v3.82h-34.0zM358.1 697.5h34.0v3.82h-34.0zM300.9 700.9h17.2v3.82h-17.2zM321.1 700.9h27.3v3.82h-27.3zM297.5 704.3h10.4v3.82h-10.4zM311.0 704.3h40.7v3.82h-40.7zM297.5 707.6h50.9v3.82h-50.9zM297.5 711.0h50.9v3.82h-50.9zM297.5 714.4h50.9v3.82h-50.9zM294.1 717.8h54.2v3.82h-54.2zM294.1 721.1h50.9v3.82h-50.9zM364.9 721.1h7.0v3.82h-7.0zM297.5 724.5h37.4v3.82h-37.4zM337.9 724.5h7.0v3.82h-7.0zM364.9 724.5h7.0v3.82h-7.0zM290.7 727.9h50.9v3.82h-50.9zM354.8 727.9h3.7v3.82h-3.7zM368.2 727.9h3.7v3.82h-3.7zM290.7 731.2h47.5v3.82h-47.5zM351.4 731.2h10.4v3.82h-10.4zM294.1 734.6h30.6v3.82h-30.6zM327.8 734.6h10.4v3.82h-10.4zM354.8 734.6h10.4v3.82h-10.4zM294.1 738.0h37.4v3.82h-37.4zM358.1 738.0h13.8v3.82h-13.8zM297.5 741.4h27.3v3.82h-27.3zM327.8 741.4h3.7v3.82h-3.7zM364.9 741.4h7.0v3.82h-7.0zM294.1 744.7h27.3v3.82h-27.3zM364.9 744.7h10.4v3.82h-10.4zM371.6 748.1h13.8v3.82h-13.8zM371.6 751.5h20.5v3.82h-20.5zM378.4 754.8h13.8v3.82h-13.8zM388.5 758.2h7.0v3.82h-7.0zM388.5 761.6h13.8v3.82h-13.8zM391.8 764.9h20.5v3.82h-20.5zM297.5 768.3h10.4v3.82h-10.4zM391.8 768.3h23.9v3.82h-23.9zM284.0 771.7h27.3v3.82h-27.3zM405.3 771.7h10.4v3.82h-10.4zM290.7 775.0h20.5v3.82h-20.5zM408.7 775.0h10.4v3.82h-10.4zM290.7 778.4h3.7v3.82h-3.7zM300.9 778.4h10.4v3.82h-10.4zM412.1 778.4h7.0v3.82h-7.0zM307.6 781.8h10.4v3.82h-10.4zM314.3 785.2h7.0v3.82h-7.0zM425.5 785.2h3.7v3.82h-3.7zM432.3 785.2h7.0v3.82h-7.0zM425.5 788.5h17.2v3.82h-17.2zM425.5 791.9h7.0v3.82h-7.0zM435.6 791.9h13.8v3.82h-13.8zM435.6 795.3h17.2v3.82h-17.2zM439.0 798.6h3.7v3.82h-3.7zM445.8 798.6h10.4v3.82h-10.4zM449.1 802.0h13.8v3.82h-13.8zM452.5 805.4h13.8v3.82h-13.8zM455.9 808.8h3.7v3.82h-3.7zM462.6 808.8h3.7v3.82h-3.7zM455.9 812.1h17.2v3.82h-17.2zM459.2 815.5h17.2v3.82h-17.2zM469.4 818.9h10.4v3.82h-10.4zM482.8 818.9h23.9v3.82h-23.9zM472.7 822.2h13.8v3.82h-13.8zM489.6 822.2h17.2v3.82h-17.2zM499.7 825.6h10.4v3.82h-10.4zM499.7 829.0h20.5v3.82h-20.5zM509.8 832.3h13.8v3.82h-13.8zM519.9 835.7h7.0v3.82h-7.0zM523.3 839.1h10.4v3.82h-10.4zM536.8 839.1h20.5v3.82h-20.5zM563.7 839.1h3.7v3.82h-3.7zM523.3 842.5h47.5v3.82h-47.5zM530.0 845.8h13.8v3.82h-13.8zM557.0 845.8h10.4v3.82h-10.4z" fill="#ff0000"/><rect x="352" y="589" width="3.5" height="7" fill="#000"/><rect x="361" y="587" width="3.5" height="6" fill="#000"/><rect x="345" y="621" width="7" height="3.5" fill="#000"/><rect x="364" y="619" width="8" height="4.5" fill="#000"/><rect x="331" y="661" width="6.5" height="6.5" fill="#000"/><rect x="319" y="703" width="3.5" height="8" fill="#000"/><rect x="337" y="710" width="4" height="8" fill="#000"/><rect x="303" y="715" width="4" height="3" fill="#000"/><rect x="343" y="717" width="5" height="10" fill="#000"/><line x1="436.7" y1="618" x2="552" y2="618" stroke="#ff33cc" stroke-width="4"/><line x1="436.7" y1="617.5" x2="496.6" y2="593.2" stroke="#ff33cc" stroke-width="4"/><circle cx="436.7" cy="617.1" r="6.8" fill="#ff33cc"/><line x1="377" y1="711" x2="495.6" y2="711" stroke="#00b050" stroke-width="4"/><line x1="377" y1="708" x2="452" y2="697" stroke="#00b050" stroke-width="4"/><circle cx="376.9" cy="707.6" r="7" fill="#00b050"/><line x1="348.8" y1="737.4" x2="431.6" y2="737.4" stroke="#0000ff" stroke-width="4"/><line x1="348.8" y1="737" x2="390.4" y2="775" stroke="#0000ff" stroke-width="4"/><circle cx="348.8" cy="737" r="7" fill="#0000ff"/><circle cx="481.8" cy="681.4" r="7" fill="#6e8636"/><circle cx="573.2" cy="848.5" r="7" fill="#7c5c9e"/><line x1="450" y1="567" x2="464.4" y2="589.1" stroke="#000" stroke-width="2.6"/><polygon points="471.5,600.0 468.6,586.4 460.2,591.8" fill="#000"/><line x1="489.7" y1="654.5" x2="481.8" y2="632.3" stroke="#000" stroke-width="2.6"/><polygon points="477.5,620.0 477.1,633.9 486.5,630.6" fill="#000"/><path d="M471.5,600 Q476,610 477.5,620" fill="none" stroke="#000" stroke-width="2"/><line x1="416.5" y1="656" x2="431.2" y2="685.4" stroke="#000" stroke-width="2.6"/><polygon points="437.0,697.0 435.7,683.1 426.7,687.6" fill="#000"/><line x1="446.8" y1="746.3" x2="442.6" y2="726.2" stroke="#000" stroke-width="2.6"/><polygon points="440.0,713.5 437.7,727.2 447.5,725.2" fill="#000"/><path d="M437,697 Q439.5,705 440,713.5" fill="none" stroke="#000" stroke-width="2"/><line x1="403" y1="715" x2="396.1" y2="724.5" stroke="#000" stroke-width="2.6"/><polygon points="388.5,735.0 400.2,727.4 392.1,721.5" fill="#000"/><line x1="354.2" y1="786.7" x2="364.7" y2="772.9" stroke="#000" stroke-width="2.6"/><polygon points="372.5,762.5 360.7,769.9 368.6,775.9" fill="#000"/><path d="M388.5,735 Q381,749 372.5,762.5" fill="none" stroke="#000" stroke-width="2"/><text x="397" y="598.6" font-size="21" fill="#ff33cc" xml:space="preserve">#1 P</text><text x="344" y="689.8" font-size="21" fill="#00b050" xml:space="preserve">#2 P</text><text x="299.5" y="761.4" font-size="21" fill="#0000ff" xml:space="preserve">#3 P</text><text x="509" y="687.3" font-size="21" fill="#6e8636" xml:space="preserve">#4 P</text><text x="562" y="874.3" font-size="21" fill="#7c5c9e" xml:space="preserve">#5 P</text><text x="506.5" y="650.3" font-size="21" fill="#000" xml:space="preserve">-22.3°</text><text x="470.3" y="738.7" font-size="21" fill="#000" xml:space="preserve">-7.7°</text><text x="370.2" y="798.5" font-size="21" fill="#000" xml:space="preserve">41.6°</text></g><rect x="282" y="555" width="379.5" height="377.5" fill="none" stroke="#0070c0" stroke-width="4" stroke-dasharray="6.6 4.7"/><line x1="190" y1="555" x2="262" y2="555" stroke="#0070c0" stroke-width="4"/><polygon points="282,555 257,547 257,563" fill="#0070c0"/><line x1="198.6" y1="741" x2="270.7" y2="907.1" stroke="#0070c0" stroke-width="4"/><polygon points="281.0,931.0 278.5,903.8 262.9,910.5" fill="#0070c0"/>
<!-- a2 -->
<defs><clipPath id="cA2"><rect x="824.3" y="46.3" width="761.5" height="393.0"/></clipPath></defs><rect x="824.3" y="46.3" width="761.5" height="393.0" fill="#f8f8f8"/><g clip-path="url(#cA2)"><polygon points="824.3,112 846,120 862,131 875,140 887.3,149 898.6,160.2 910.9,172 913.2,179.3 916.5,182.1 924.4,182.6 928.9,187.1 936.2,195.6 944.6,202.3 954.7,210.1 962.5,210.7 970.4,215.2 973.8,219.7 969.3,227 977.1,229.2 985,238.8 991.7,247 994,250.1 992.3,258 993.4,260.8 1001.8,256.8 1009,256.6 1011.8,266.4 1010.3,282.1 1016.8,284.3 1024.7,281.5 1031.4,289.9 1030.3,297.2 1035.9,305.1 1040.4,308.2 1050.5,308.4 1057.2,312.6 1048.8,329.5 1057.2,342.1 1063.1,348 1058.9,329 1063.1,326.9 1073.2,336.2 1072.4,344.6 1085.9,358.1 1092.6,350.5 1101,350.2 1103,353.5 1094.3,356.4 1089.2,362.3 1089.2,367.3 1096,375.8 1099.3,387.5 1105.2,399.3 1101,406.9 1091.8,406.9 1092.3,409.4 1101,410.3 1109.4,423.7 1107.7,424.6 1101,418.7 1094.3,419.9 1087.5,414.5 1080.8,404.4 1070.7,396 1063.1,404.4 1055.6,412 1040.4,412.5 1033.7,416.2 1025,418 1010,412 996,416 985,407.3 975,408 875,411.8 873.9,402.8 871.1,396.1 865.5,392.2 861,382.1 855.9,369.2 857.6,361.3 853.7,354.6 851.4,346.7 850.3,341 848,329.8 842.4,318.6 838,313 835.2,302.9 832.3,291.6 824.3,291" fill="#fce0d0" stroke="#3a3a3a" stroke-width="0.9" stroke-linejoin="round"/><polygon points="976.1,250.3 978.6,247.8 981.1,250.3 978.6,252.8" fill="#f8f8f8" stroke="#3a3a3a" stroke-width="0.9" stroke-linejoin="round"/><polygon points="993.4,274 1001.3,268 1008.6,274.5 1004,282.6 998,282.6" fill="#f8f8f8" stroke="#3a3a3a" stroke-width="0.9" stroke-linejoin="round"/><polygon points="1015,300 1019,302 1018.5,307 1016.8,309 1015.5,306" fill="#f8f8f8" stroke="#3a3a3a" stroke-width="0.9" stroke-linejoin="round"/><polygon points="1053.9,368.7 1063.1,364.8 1064.8,369 1062.3,373.2" fill="#f8f8f8" stroke="#3a3a3a" stroke-width="0.9" stroke-linejoin="round"/><polygon points="1066.5,376.6 1071.5,374.4 1073.6,376.9 1070.7,381.3" fill="#f8f8f8" stroke="#3a3a3a" stroke-width="0.9" stroke-linejoin="round"/><polygon points="1060.6,384.2 1063.1,379.5 1068.7,383.8 1062.6,393.1" fill="#f8f8f8" stroke="#3a3a3a" stroke-width="0.9" stroke-linejoin="round"/><polygon points="1072.4,360.3 1078.3,358.4 1082,360.3 1077.4,362" fill="#f8f8f8" stroke="#3a3a3a" stroke-width="0.9" stroke-linejoin="round"/><polygon points="824.3,114.5 843,122 852,131 859.3,140 868.3,154.6 880.6,173.7 886.2,187.1 896.3,196.1 900.8,206.2 909.8,211.8 909.8,218.6 915.4,229.8 918.8,247 924.4,250.1 927.7,258 922.7,266.4 924.9,270.3 932.2,272 936.7,281.5 941.2,289.4 940.1,297.2 933.4,305.7 935,320.8 944,328.7 944.6,341 946.8,346.7 954.7,349 967,360.2 972.6,368.6 979.4,378.2 983.9,388.3 987.8,398.4 985,407.3 980.5,408.5 980,439.3 878,439.3 876.7,411.8 879.5,400.6 877.2,393.9 875,384.9 876.1,375.9 870.5,370.3 869.4,362.4 866,351.2 862,344 859.8,341 853.7,329.8 851.4,326.4 838,311.8 835.7,289.4 824.3,277" fill="#f7b599" stroke="#3a3a3a" stroke-width="0.9" stroke-linejoin="round"/><polygon points="824.3,116.5 838,123 845,131 850.3,140 857,151.2 863.8,173.7 867.1,196.1 875,211.8 880.6,233.2 881.5,240 887.3,250.1 887.3,260.2 894.1,273.7 893,278.7 886.2,280.4 878.9,289.9 891.3,305.7 885.7,313 885.1,320.8 878.4,327.5 870.5,327.5 861,323.6 850.3,319.7 844.1,314.1 838,300.6 837.4,290.5 824.3,275.4" fill="#e98f71" stroke="#3a3a3a" stroke-width="0.9" stroke-linejoin="round"/><polygon points="878.4,409.6 886.2,410.1 896.3,400.6 890.7,384.3 900.8,372.5 912,371.4 913.2,366.9 908.7,358 909.2,352.3 916,344.5 917.6,345.6 910.9,354.6 913.2,361.3 924.4,370.3 932.2,364.1 940.1,370.3 947.9,379.3 956.9,378.2 963.7,382.6 969.8,389.4 977.1,397.2 980.5,407.3 975,414 960,439.3 880,439.3" fill="#e98f71" stroke="#3a3a3a" stroke-width="0.9" stroke-linejoin="round"/><polygon points="824.3,118.5 832,124 837,132 839.1,140 842.4,162.4 840.8,184.9 839.6,207.3 839.1,224.2 838.5,247 838.5,251.2 834.6,262.4 830.1,266.9 824.3,267.5" fill="#d15b49" stroke="#3a3a3a" stroke-width="0.9" stroke-linejoin="round"/><polygon points="915.4,423.1 914.8,411.8 918.8,404 924.4,398.4 933.4,398.4 936.7,405.1 939.5,414.1 936.7,416.3 925.5,416.3 917.6,423.6" fill="#d15b49" stroke="#3a3a3a" stroke-width="0.9" stroke-linejoin="round"/><polygon points="954.7,420.2 953,414.1 956.9,406.2 964.8,401.7 977.1,405.1 979.4,408.5 970.4,409.6 960.3,418.6" fill="#d15b49" stroke="#3a3a3a" stroke-width="0.9" stroke-linejoin="round"/><polygon points="878.4,414.1 885.1,423.1 901.9,429.8 897.4,439.3 886.2,439.3 884.5,425.3" fill="#d15b49" stroke="#3a3a3a" stroke-width="0.9" stroke-linejoin="round"/><polygon points="824.3,46.3 1005,46.3 1000,49 994,52 984,55 972,56 968.8,53.7 966,57 964.8,69.2 960.9,79.6 957,84 954.7,86 952.4,77 946.8,74.8 941.2,83.8 936.7,92.7 931,96 923.3,98.9 916.5,101.5 903,101.2 891.8,95.8 881.7,98.4 870.5,104.5 853.7,108.1 836.8,104.5 824.3,102.3" fill="#d7e7f1" stroke="#3a3a3a" stroke-width="0.9" stroke-linejoin="round"/><polygon points="917,54.8 923.8,48 941,48 936,53 930,56" fill="#f8f8f8" stroke="#3a3a3a" stroke-width="0.9" stroke-linejoin="round"/><polygon points="952,46.3 972,46.3 966,51 958,50 953,54" fill="#f8f8f8" stroke="#3a3a3a" stroke-width="0.9" stroke-linejoin="round"/><polygon points="824.3,46.3 879.8,46.3 885.5,54.1 885.7,59.8 881.5,69.9 874.2,77.8 866,86 856,94 842,99 824.3,100.6" fill="#acd0e6" stroke="#3a3a3a" stroke-width="0.9" stroke-linejoin="round"/><polygon points="824.3,46.3 874.2,46.3 878.7,56.9 878.7,61.4 872,68 865.1,73.9 856.7,76.1 852,82 846,90 836,95 824.3,96.5" fill="#7cb4d6" stroke="#3a3a3a" stroke-width="0.9" stroke-linejoin="round"/><polygon points="829,68 832,63 846,66 852,60 858,58 866,62 862,68 856,71 857,78 853,81 848,82 844,76 836,72" fill="#d7e7f1" stroke="#3a3a3a" stroke-width="0.9" stroke-linejoin="round"/><polygon points="835,69 840,66 848,68 854,63 860,61 856,67 850,70 847,74 842,72" fill="#ffffff" stroke="#3a3a3a" stroke-width="0.9" stroke-linejoin="round"/><polygon points="848,46.3 853,54 858,58 863,54 866,46.3" fill="#ffffff" stroke="#3a3a3a" stroke-width="0.6" stroke-linejoin="round"/><polygon points="851,46.3 856,52 860,50 861,46.3" fill="#fce0d0" stroke="#3a3a3a" stroke-width="0.5" stroke-linejoin="round"/><polygon points="839,54 847,52 849,58 846,63 841,62" fill="#3e8ac0" stroke="#3a3a3a" stroke-width="0.9" stroke-linejoin="round"/><polygon points="854,69 862,65 864,68 862,71 855,72" fill="#3e8ac0" stroke="#3a3a3a" stroke-width="0.9" stroke-linejoin="round"/><polygon points="833,78 841,76 839,83" fill="#3e8ac0" stroke="#3a3a3a" stroke-width="0.9" stroke-linejoin="round"/><polygon points="826,85 832,81 835,92 830,95" fill="#3e8ac0" stroke="#3a3a3a" stroke-width="0.9" stroke-linejoin="round"/><polygon points="852,58 857,60 852,68 848,66" fill="#8a6a5a" opacity=".7"/><polygon points="824.3,102.3 836.8,104.5 846,109 851,115 846,120 824.3,112" fill="#f8f8f8" stroke="#3a3a3a" stroke-width="0.7" stroke-linejoin="round"/><polygon points="824.3,107 838,111 844,116 846,120 824.3,112" fill="#fce0d0" stroke="#3a3a3a" stroke-width="0.7" stroke-linejoin="round"/><polygon points="824.3,135 828,139 824.3,145" fill="#4d6f86" stroke="#6b6b6b" stroke-width="1.5" stroke-linejoin="round"/><polygon points="824.3,228 829,234 824.3,240" fill="#4d6f86" stroke="#6b6b6b" stroke-width="1.5" stroke-linejoin="round"/><polygon points="824.3,291 832.3,291.6 835.2,302.9 838,313 842.4,318.6 848,329.8 850.3,341 851.4,346.7 853.7,354.6 857.6,361.3 855.9,369.2 861,382.1 865.5,392.2 871.1,396.1 873.9,402.8 875,411.8 870,412 860,408 850,410 824.3,420" fill="#f8f8f8" stroke="#3a3a3a" stroke-width="0.9" stroke-linejoin="round"/><polygon points="824.3,306.2 831.2,309.6 833.5,318.6 836.8,330.9 840.8,338.2 845,347 842.4,372.5 849.2,384.9 857,395 867.1,402.8 872.7,409.6 860,412 850,415 824.3,425" fill="#d7e7f1" stroke="#3a3a3a" stroke-width="0.9" stroke-linejoin="round"/><polygon points="824.3,323 830,329 836,338 843.6,346.7 842,354 834,358 824.3,352" fill="#acd0e6" stroke="#3a3a3a" stroke-width="0.9" stroke-linejoin="round"/><polygon points="824.3,328 829,333 834,341 840,348 838,354 824.3,350" fill="#7cb4d6" stroke="#3a3a3a" stroke-width="0.6" stroke-linejoin="round"/><polygon points="824.3,333 828,338 832,344 836,350 831,353 824.3,348" fill="#3e8ac0" stroke="#3a3a3a" stroke-width="0.6" stroke-linejoin="round"/><polygon points="824.3,353 832.3,360.2 838.5,361 839,368 831.2,371.4 824.3,374" fill="#d15b49" stroke="#6b6b6b" stroke-width="1.6" stroke-linejoin="round"/><polygon points="833,360.5 838.5,361 839,368 833,370.5" fill="#e98f71" stroke="#3a3a3a" stroke-width="0.6" stroke-linejoin="round"/><polygon points="824.3,372.5 834,370 839,371.4 845.8,379.3 846.9,390.5 844.7,407.3 840.2,416.3 832,419 824.3,419" fill="#acd0e6" stroke="#3a3a3a" stroke-width="0.9" stroke-linejoin="round"/><polygon points="824.3,374 833,373 841,380 843,391 841,406 837,414 824.3,417" fill="#7cb4d6" stroke="#3a3a3a" stroke-width="0.6" stroke-linejoin="round"/><polygon points="824.3,376 832,376 838,382 840,392 838,405 834,412 824.3,414" fill="#3e8ac0" stroke="#6b6b6b" stroke-width="1.2" stroke-linejoin="round"/><polygon points="824.3,380 831,380 835,386 833,396 831,408 824.3,411" fill="#0a4e9e" stroke="#3a3a3a" stroke-width="0.6" stroke-linejoin="round"/><polygon points="824.3,398 829,403 824.3,409" fill="#7a6a72" stroke="#6b6b6b" stroke-width="1.2" stroke-linejoin="round"/><polygon points="824.3,418.6 833,420 845,414 852,411 853,417 848,422 838,427 831,436 826,439.3 824.3,439.3" fill="#e98f71" stroke="#6b6b6b" stroke-width="1.4" stroke-linejoin="round"/><polygon points="824.3,422 831,425 824.3,433" fill="#d15b49" stroke="#3a3a3a" stroke-width="0.6" stroke-linejoin="round"/><polygon points="826,439.3 833,432 845,427 851,427 846,433 842,439.3" fill="#fce0d0" stroke="#3a3a3a" stroke-width="0.6" stroke-linejoin="round"/><polygon points="842,439.3 846,433 852,427 857,433 860,439.3" fill="#f8f8f8" stroke="#3a3a3a" stroke-width="0.6" stroke-linejoin="round"/><polygon points="853.7,411.8 859.3,408.5 870.5,409.6 878.4,417.4 884,425.3 884.5,439.3 868.3,439.3 857,433.2 852.5,426.4 851.4,418.6" fill="#d7e7f1" stroke="#3a3a3a" stroke-width="0.9" stroke-linejoin="round"/><polygon points="854.8,414.1 859.8,410.1 869.9,411.3 877.2,418.6 882.9,425.9 883.4,439.3 869.4,439.3 858.2,432.6 853.7,426.4 853.1,419.1" fill="#acd0e6" stroke="#3a3a3a" stroke-width="0.6" stroke-linejoin="round"/><polygon points="856.5,416.3 860.4,412.4 869.4,413 876.7,419.7 881.7,426.4 882.3,439.3 870.5,439.3 859.3,432 855.4,425.9" fill="#3e8ac0" stroke="#6b6b6b" stroke-width="1.2" stroke-linejoin="round"/><polygon points="873.9,428.7 878.4,423.1 878.9,439.3 876.1,439.3" fill="#0a4e9e" stroke="#3a3a3a" stroke-width="0.6" stroke-linejoin="round"/><polygon points="876.1,413 880.6,418.6 885.1,424.2 885.1,439.3 882.9,439.3 882.3,426.4 876.7,419.1 872.7,411.8" fill="#6b6b6b" stroke="#6b6b6b" stroke-width="0.5" stroke-linejoin="round"/><polygon points="917.1,439.3 917.6,424.2 924.4,417.4 932.2,417.4 939,425.3 941.2,439.3" fill="#6b6b6b" stroke="#555" stroke-width="0.8" stroke-linejoin="round"/><polygon points="920.4,439.3 921,425.3 925.3,420.2 931.3,421 935.6,426.4 936.7,439.3" fill="#3e8ac0" stroke="#3a3a3a" stroke-width="0.6" stroke-linejoin="round"/><polygon points="923.8,439.3 924.9,427.5 927.7,423.1 931.1,424.2 929.4,429.8 929.4,439.3" fill="#0a4e9e" stroke="#3a3a3a" stroke-width="0.6" stroke-linejoin="round"/><polygon points="936.7,439.3 937.3,429.8 940.1,428.7 941.8,439.3" fill="#d15b49" stroke="#3a3a3a" stroke-width="0.6" stroke-linejoin="round"/><polygon points="897.4,439.3 901.9,434.3 906.4,439.3" fill="#5f7f96" stroke="#6b6b6b" stroke-width="1.5" stroke-linejoin="round"/><polygon points="945.7,433.2 947.4,427.5 949.6,433.2 947.4,437.6" fill="#fce0d0" stroke="#3a3a3a" stroke-width="0.7" stroke-linejoin="round"/><polygon points="979.4,408.5 981.6,407.9 988.4,407.3 996.2,416.3 994,427.5 990.6,437.6 988.4,439.3 977.1,439.3" fill="#f8f8f8" stroke="#3a3a3a" stroke-width="0.9" stroke-linejoin="round"/><polygon points="976,411.8 981.6,411.8 986.1,418.6 988.4,428.7 989.5,437.6 988.4,439.3 976,439.3" fill="#d7e7f1" stroke="#3a3a3a" stroke-width="0.6" stroke-linejoin="round"/><polygon points="956.4,439.3 957.5,424.2 970.4,410.1 979.4,411.8 977.1,418.6 974.9,427.5 982.7,433.2 989.5,439.3" fill="#6b6b6b" stroke="#555" stroke-width="0.8" stroke-linejoin="round"/><polygon points="960.3,439.3 960.9,425.3 971,414.1 977.1,414.6 974.9,420.8 973.2,428.7 980.5,434.3 986.1,439.3" fill="#3e8ac0" stroke="#3a3a3a" stroke-width="0.6" stroke-linejoin="round"/><polygon points="962.5,439.3 963.1,425.3 968.1,423.1 965.9,429.8 967,439.3" fill="#0a4e9e" stroke="#3a3a3a" stroke-width="0.6" stroke-linejoin="round"/><polygon points="977.1,429.8 982.7,428.7 987.2,436.5 985,439.3 979.4,435.4" fill="#acd0e6" stroke="#3a3a3a" stroke-width="0.6" stroke-linejoin="round"/><polygon points="992.8,439.3 1001.8,430.9 1010.8,429.8 1005.2,439.3" fill="#e98f71" stroke="#3a3a3a" stroke-width="0.9" stroke-linejoin="round"/><polygon points="1004.1,439.3 1009.7,434.3 1015.3,437.6 1020,439.3" fill="#6a8296" stroke="#6b6b6b" stroke-width="1.4" stroke-linejoin="round"/><polygon points="992.6,439.1 993.9,434.3 1000.1,424.8 1007.5,423.4 1011.6,420.1 1014.3,412.6 1015,407.2 1017.7,404.1 1023.8,403.1 1027.9,407.2 1032.6,411.2 1034.7,415.3 1030.6,418 1027.9,420.7 1025.2,427.5 1023.1,439.1" fill="#f7b599" stroke="#3a3a3a" stroke-width="0.9" stroke-linejoin="round"/><polygon points="993.3,438.4 1002.1,429.6 1010.2,430.2 1004.8,436.3 1002.1,439.1 993.3,439.1" fill="#e98f71" stroke="#3a3a3a" stroke-width="0.7" stroke-linejoin="round"/><polygon points="1022.5,420.7 1024.2,413.9 1026.2,416.7 1025.9,427.5 1023.8,439.1 1021.1,439.1" fill="#e98f71" stroke="#3a3a3a" stroke-width="0.7" stroke-linejoin="round"/><polygon points="1004.8,439.1 1008.9,434.3 1014.3,437.7 1016.3,439.1" fill="#6a8296" stroke="#6b6b6b" stroke-width="1.2" stroke-linejoin="round"/><polygon points="1027.9,439.1 1028.6,423.4 1030.6,419.4 1034.7,418.7 1038.8,420.7 1042.1,426.2 1043.8,439.1" fill="#d7e7f1" stroke="#3a3a3a" stroke-width="0.7" stroke-linejoin="round"/><polygon points="1029.2,439.1 1029.9,424.1 1034,420.7 1037.4,423.4 1040.1,439.1" fill="#acd0e6" stroke="#3a3a3a" stroke-width="0.6" stroke-linejoin="round"/><polygon points="1032,439.1 1032.3,426.2 1034.7,423.4 1036,427.5 1036.7,439.1" fill="#3e8ac0" stroke="#3a3a3a" stroke-width="0.5" stroke-linejoin="round"/><polygon points="1049.7,439.4 1049.2,427.9 1054.7,417.8 1057.2,427.9 1056.4,439.4" fill="#fce0d0" stroke="#3a3a3a" stroke-width="0.7" stroke-linejoin="round"/><polygon points="1052.2,433 1054.7,427.1 1058.9,427.9 1064,431.3 1058.1,434.7" fill="#f8f8f8" stroke="#3a3a3a" stroke-width="0.6" stroke-linejoin="round"/><polygon points="1057.2,439.4 1060.6,424.6 1063.6,419.9 1070.7,425.4 1073.6,439.4" fill="#d7e7f1" stroke="#3a3a3a" stroke-width="0.7" stroke-linejoin="round"/><polygon points="1110.3,439.4 1117.8,434.7 1114.5,423.7 1123.7,416.2 1125.4,407.7 1133.8,412.8 1134.7,417.8 1137.2,424.9 1139.7,432.2 1134.7,439.4" fill="#d7e7f1" stroke="#3a3a3a" stroke-width="0.8" stroke-linejoin="round"/><polygon points="1159.1,439.4 1156.6,417.8 1161.6,407.7 1170,397.6 1178.5,396.3 1186.5,398 1194.4,400.2 1190.2,409.4 1181.8,416.2 1181,424.6 1187.7,431.3 1180.1,439.4" fill="#d7e7f1" stroke="#3a3a3a" stroke-width="0.8" stroke-linejoin="round"/><polygon points="1198.7,423.7 1201.2,421.2 1203.7,423.7 1203.7,433 1201.2,438 1198.7,433" fill="#d7e7f1" stroke="#3a3a3a" stroke-width="0.8" stroke-linejoin="round"/><polygon points="1230.6,439.4 1234.8,428.8 1242.4,425.4 1237.4,420.9 1243.3,416.2 1244.9,424.6 1250,430.5 1242.4,439.4" fill="#d7e7f1" stroke="#3a3a3a" stroke-width="0.8" stroke-linejoin="round"/><polygon points="1252.05,423.401 1254.55,420.901 1257.05,423.401 1254.55,425.901" fill="#d7e7f1" stroke="#3a3a3a" stroke-width="0.8" stroke-linejoin="round"/><polygon points="1260.1,439.4 1267.7,432.2 1270.2,422.9 1272.7,423.7 1271.9,439.4" fill="#d7e7f1" stroke="#3a3a3a" stroke-width="0.8" stroke-linejoin="round"/><polygon points="1183.03,377.104 1186.03,374.104 1189.03,377.104 1186.03,380.104" fill="#d7e7f1" stroke="#3a3a3a" stroke-width="0.8" stroke-linejoin="round"/><polygon points="1296.7,439.4 1295.9,427.9 1300.1,417.8 1308.5,416.2 1304.3,412 1311,407.7 1311.9,412.8 1303.5,423.7 1313.6,431.3 1306,439.4" fill="#d7e7f1" stroke="#3a3a3a" stroke-width="0.8" stroke-linejoin="round"/><polygon points="1335.5,439.4 1332.1,416.2 1352.3,408.6 1345.6,400.2 1354.8,394.3 1357.3,392.3 1343.9,383.3 1349.8,380.8 1362.4,378.8 1368.3,384.2 1364.1,391.8 1370,397.6 1380.9,398.5 1391.9,387.5 1384.3,384.2 1386.8,382.2 1393.5,385 1398.6,392.6 1394.4,406.1 1395.7,408.6 1396.1,417.8 1392.7,425.4 1381.8,420.4 1369.1,419.5 1362.4,422.1 1361.5,427.1 1373.3,430.5 1370.8,439.4" fill="#d7e7f1" stroke="#3a3a3a" stroke-width="0.8" stroke-linejoin="round"/><polygon points="1397.7,374.9 1401.1,364.8 1406.2,369 1409.9,377.1 1399.4,377.4" fill="#d7e7f1" stroke="#3a3a3a" stroke-width="0.8" stroke-linejoin="round"/><polygon points="1394.4,439.4 1404.5,433 1408.7,431.3 1409.9,423.7 1409.9,439.4" fill="#d7e7f1" stroke="#3a3a3a" stroke-width="0.8" stroke-linejoin="round"/><polygon points="1419.6,415.3 1424.3,409.8 1429.7,414.5 1424.7,419.5" fill="#d7e7f1" stroke="#3a3a3a" stroke-width="0.8" stroke-linejoin="round"/><polygon points="1428.4,423.7 1433.1,417.8 1438.7,423.7 1433.1,430.5" fill="#d7e7f1" stroke="#3a3a3a" stroke-width="0.8" stroke-linejoin="round"/><polygon points="1441.5,422.9 1447.4,417.8 1453,423.7 1447.4,428.8" fill="#d7e7f1" stroke="#3a3a3a" stroke-width="0.8" stroke-linejoin="round"/><polygon points="1449.9,430.5 1455.8,425.4 1464.2,431.3 1456.7,434.2" fill="#d7e7f1" stroke="#3a3a3a" stroke-width="0.8" stroke-linejoin="round"/><polygon points="1421.3,439.4 1424.7,433.5 1428.4,439.4" fill="#d7e7f1" stroke="#3a3a3a" stroke-width="0.8" stroke-linejoin="round"/><polygon points="1435.6,439.4 1439.8,433 1443.5,439.4" fill="#d7e7f1" stroke="#3a3a3a" stroke-width="0.8" stroke-linejoin="round"/><polygon points="1467.6,439.4 1471,434.2 1474.3,439.4" fill="#d7e7f1" stroke="#3a3a3a" stroke-width="0.8" stroke-linejoin="round"/><polygon points="1460,407.7 1465.1,408.6 1466.4,416.2 1463.4,419.5 1459.7,415.3" fill="#d7e7f1" stroke="#3a3a3a" stroke-width="0.8" stroke-linejoin="round"/><polygon points="1483.3,423.7 1486.1,420.4 1489.5,424.2 1486.1,427.9" fill="#d7e7f1" stroke="#3a3a3a" stroke-width="0.8" stroke-linejoin="round"/><polygon points="1307.7,360.6 1310.2,358.6 1312.7,360.3 1309.9,362.6" fill="#d7e7f1" stroke="#3a3a3a" stroke-width="0.8" stroke-linejoin="round"/><polygon points="1345.6,368.5 1347.6,366.5 1349.3,368.5 1347.2,370.4" fill="#d7e7f1" stroke="#3a3a3a" stroke-width="0.8" stroke-linejoin="round"/><polygon points="1368.3,376.6 1370.8,374.1 1373,377.1 1370.5,379.5" fill="#d7e7f1" stroke="#3a3a3a" stroke-width="0.8" stroke-linejoin="round"/><polygon points="1362.4,345.1 1377.5,352.2 1368.3,350.5 1364.1,357.2 1362.7,367.3 1361.5,355.6" fill="#d7e7f1" stroke="#3a3a3a" stroke-width="0.8" stroke-linejoin="round"/><polygon points="1411.5,353 1417.1,350.5 1419.6,353.5 1415.9,357.2" fill="#d7e7f1" stroke="#3a3a3a" stroke-width="0.8" stroke-linejoin="round"/><polygon points="1460,369 1462.1,360.6 1465.9,360.3 1463.4,369.4" fill="#d7e7f1" stroke="#3a3a3a" stroke-width="0.8" stroke-linejoin="round"/><polygon points="1467.3,352.2 1471,349.7 1472.7,353.9 1470.1,359.3" fill="#d7e7f1" stroke="#3a3a3a" stroke-width="0.8" stroke-linejoin="round"/><polygon points="1429.4,327.8 1432.3,321.9 1435.6,328.6 1432.3,332.8" fill="#d7e7f1" stroke="#3a3a3a" stroke-width="0.8" stroke-linejoin="round"/><polygon points="1445.2,312.6 1448.2,311.8 1450.8,313.5 1447.9,316.5" fill="#d7e7f1" stroke="#3a3a3a" stroke-width="0.8" stroke-linejoin="round"/><polygon points="1476,313.5 1478.9,308.1 1482.4,314.3 1478.9,316.8" fill="#d7e7f1" stroke="#3a3a3a" stroke-width="0.8" stroke-linejoin="round"/><polygon points="1485.3,336.2 1493.7,336.7 1500.4,321.9 1510.5,329.5 1503,340.4 1499.6,345.5 1493.7,340.4 1485.3,339.6" fill="#d7e7f1" stroke="#3a3a3a" stroke-width="0.8" stroke-linejoin="round"/><polygon points="1499.6,346.3 1503,345.5 1507.7,352.2 1503,357.2 1499.6,353" fill="#d7e7f1" stroke="#3a3a3a" stroke-width="0.8" stroke-linejoin="round"/><polygon points="1510.5,352.2 1516.4,349.2 1519.3,353 1516.4,357.2" fill="#d7e7f1" stroke="#3a3a3a" stroke-width="0.8" stroke-linejoin="round"/><polygon points="1529.9,347.1 1532.4,342.1 1534.4,348 1532.4,356.4" fill="#d7e7f1" stroke="#3a3a3a" stroke-width="0.8" stroke-linejoin="round"/><polygon points="1535.5,368.7 1539.5,362.3 1543,368.7 1539.2,376.6" fill="#d7e7f1" stroke="#3a3a3a" stroke-width="0.8" stroke-linejoin="round"/><polygon points="1576.2,375.8 1585.8,370.7 1585.8,379.1 1579.6,378.8" fill="#d7e7f1" stroke="#3a3a3a" stroke-width="0.8" stroke-linejoin="round"/><polygon points="1492,407.7 1498.8,406.9 1494.5,411.1" fill="#d7e7f1" stroke="#3a3a3a" stroke-width="0.8" stroke-linejoin="round"/><polygon points="1497.9,439.4 1501.3,434.7 1508.9,429.6 1510.5,424.6 1507.2,420.4 1500.4,422.9 1496.7,416.2 1499.6,409.4 1508.9,412 1517.3,409.4 1517.3,401 1508.9,387.5 1508,367.3 1515.6,366.2 1520.3,367.3 1518.1,376.6 1519.8,384.2 1532.4,385.9 1544.2,399.3 1539.2,405.2 1531.6,406.1 1532.4,412.8 1540.5,412 1547.6,409.4 1556,403.5 1566.1,406.1 1570.3,411.1 1577.9,405.2 1585.8,416.2 1585.8,439.4" fill="#d7e7f1" stroke="#3a3a3a" stroke-width="0.8" stroke-linejoin="round"/><polygon points="1527.4,439.4 1531.6,434.7 1535.8,439.4" fill="#f8f8f8" stroke="#3a3a3a" stroke-width="0.8" stroke-linejoin="round"/><polygon points="1552.6,439.4 1557.7,433 1562.7,434.7 1572.8,439.4" fill="#f8f8f8" stroke="#3a3a3a" stroke-width="0.8" stroke-linejoin="round"/><polygon points="1585.8,243.8 1576.2,243 1571.5,246.9 1563.6,250.6 1569.5,259 1579.6,265.4 1585.8,264.9" fill="#d7e7f1" stroke="#3a3a3a" stroke-width="0.8" stroke-linejoin="round"/><polygon points="1585.8,283.4 1578.7,285.1 1571.1,283.9 1562.7,282.5 1555.7,277.2 1539.2,296.9 1532.4,287.6 1510.5,290.1 1501.3,291.8 1497.1,297.7 1508.9,307 1521.5,312.8 1524.8,324.3 1532.4,315.4 1539.2,321.3 1534.9,333 1542.5,339.8 1550.9,344.8 1556,354.1 1564.4,354.1 1572.8,350.7 1585.8,348.2" fill="#d7e7f1" stroke="#3a3a3a" stroke-width="0.8" stroke-linejoin="round"/><polygon points="1585.8,304.4 1562.7,310.3 1560.2,314.5 1565.3,322.9 1572.5,326 1579.6,329.3 1585.8,330.5" fill="#f8f8f8" stroke="#3a3a3a" stroke-width="0.8" stroke-linejoin="round"/><polygon points="1510.5,290.1 1513.9,293.5 1529.1,298.5 1532.4,309.5 1529.9,302.7 1522.3,297.7 1515.6,296" fill="#f8f8f8" stroke="#3a3a3a" stroke-width="0.8" stroke-linejoin="round"/><polygon points="1543.23,329.175 1546.73,326.675 1550.23,329.175 1546.73,331.675" fill="#f8f8f8" stroke="#3a3a3a" stroke-width="0.8" stroke-linejoin="round"/><polygon points="1576.2,195 1585.8,195 1585.8,196.3" fill="#d7e7f1" stroke="#3a3a3a" stroke-width="0.8" stroke-linejoin="round"/><polygon points="1576.2,219.4 1585.8,215.2 1585.8,220.3" fill="#d7e7f1" stroke="#3a3a3a" stroke-width="0.8" stroke-linejoin="round"/><polygon points="1538.3,240.5 1545.9,243 1539.2,246.9" fill="#d7e7f1" stroke="#3a3a3a" stroke-width="0.8" stroke-linejoin="round"/><polygon points="1549.3,243 1556.8,241.3 1554.3,245.5" fill="#d7e7f1" stroke="#3a3a3a" stroke-width="0.8" stroke-linejoin="round"/><polygon points="1490.3,257.6 1493.7,251.9 1498.4,257.6 1494.2,262.7" fill="#d7e7f1" stroke="#3a3a3a" stroke-width="0.8" stroke-linejoin="round"/><polygon points="1468.5,273.3 1471,270.8 1475.7,273.3 1471.8,276.6" fill="#d7e7f1" stroke="#3a3a3a" stroke-width="0.8" stroke-linejoin="round"/><polygon points="1485.3,278.3 1497.1,282.2 1486.1,283.9" fill="#d7e7f1" stroke="#3a3a3a" stroke-width="0.8" stroke-linejoin="round"/><polygon points="1454.1,289.8 1463.4,287.3 1464.7,291 1460.9,292.6" fill="#d7e7f1" stroke="#3a3a3a" stroke-width="0.8" stroke-linejoin="round"/><polygon points="1531.6,274.5 1540,264 1542.5,273.3 1539.2,275.8" fill="#d7e7f1" stroke="#3a3a3a" stroke-width="0.8" stroke-linejoin="round"/><polygon points="1014.3,46.4 1016.8,52.1 1023.6,48.4 1032,54.3 1040.4,51.8 1042.9,46.4" fill="#d7e7f1" stroke="#3a3a3a" stroke-width="0.8" stroke-linejoin="round"/><polygon points="1064.8,46.4 1070.7,50.1 1076.6,46.4" fill="#d7e7f1" stroke="#3a3a3a" stroke-width="0.8" stroke-linejoin="round"/><polygon points="1089.2,46.4 1095.1,53.5 1101.9,53.1 1104.7,46.4" fill="#d7e7f1" stroke="#3a3a3a" stroke-width="0.8" stroke-linejoin="round"/><polygon points="1149,46.4 1163.3,54.8 1170.9,52.1 1175.9,46.4" fill="#d7e7f1" stroke="#3a3a3a" stroke-width="0.8" stroke-linejoin="round"/><polygon points="1197.8,46.4 1204.5,50.4 1210.4,50.1 1211.3,46.4" fill="#d7e7f1" stroke="#3a3a3a" stroke-width="0.8" stroke-linejoin="round"/><polygon points="1237.4,46.4 1240.7,50.9 1247.5,48.4 1254.2,48.4 1262.6,50.1 1265.2,46.4" fill="#d7e7f1" stroke="#3a3a3a" stroke-width="0.8" stroke-linejoin="round"/><polygon points="1289.6,46.4 1292.1,56.8 1296.3,65.3 1300,67.8 1300,46.4" fill="#d7e7f1" stroke="#3a3a3a" stroke-width="0.8" stroke-linejoin="round"/><polygon points="1042.1,61.9 1045.5,57.7 1054.7,56.3 1058.1,61.9 1053.9,66.9 1045.5,70.8" fill="#d7e7f1" stroke="#3a3a3a" stroke-width="0.8" stroke-linejoin="round"/><polygon points="1128.3,62.2 1132.2,59.7 1136,62.2 1132.2,65.6" fill="#d7e7f1" stroke="#3a3a3a" stroke-width="0.8" stroke-linejoin="round"/><polygon points="1145.1,58.5 1147.3,53.1 1149.5,58.5 1147.3,63.6" fill="#d7e7f1" stroke="#3a3a3a" stroke-width="0.8" stroke-linejoin="round"/><polygon points="1187.7,54.3 1193.6,51.4 1196.1,54.3 1193.3,57.7" fill="#d7e7f1" stroke="#3a3a3a" stroke-width="0.8" stroke-linejoin="round"/><polygon points="1212.5,69.5 1215.5,68.1 1218,70 1215.2,71.6" fill="#d7e7f1" stroke="#3a3a3a" stroke-width="0.8" stroke-linejoin="round"/><polygon points="1229.3,58.5 1232,53.5 1234.5,59.4 1232,63.6" fill="#d7e7f1" stroke="#3a3a3a" stroke-width="0.8" stroke-linejoin="round"/><polygon points="1247.1,70.3 1255.9,67.8 1258.9,70 1252.5,72" fill="#d7e7f1" stroke="#3a3a3a" stroke-width="0.8" stroke-linejoin="round"/><polygon points="1260.9,61.9 1263.5,59.9 1267.7,61.9 1263.5,65.6" fill="#d7e7f1" stroke="#3a3a3a" stroke-width="0.8" stroke-linejoin="round"/><polygon points="1292.9,76.2 1295.5,75 1300,77 1295.5,78.7" fill="#d7e7f1" stroke="#3a3a3a" stroke-width="0.8" stroke-linejoin="round"/><polygon points="1290,46.4 1295.1,46.4 1296.4,55.2 1304.8,61.9 1301.4,67.8 1293.4,63.6 1290,56.8" fill="#d7e7f1" stroke="#3a3a3a" stroke-width="0.8" stroke-linejoin="round"/><polygon points="1307.7,54.8 1315.3,52.1 1319.5,46.4 1373.3,46.4 1370.8,50.9 1364.1,54.3 1360.7,57.7 1354.8,61.5 1348.1,53.5 1343.9,56.8 1339.7,66.1 1326.2,61.9 1324.5,57.7 1316.9,65.3 1311,60.2" fill="#d7e7f1" stroke="#3a3a3a" stroke-width="0.8" stroke-linejoin="round"/><polygon points="1359,70 1386,55.5 1388.5,58.5 1394.4,66.9 1398.6,72 1403.1,77.9 1402,81.2 1383.4,78.4 1369.1,71.1 1362.4,72.8" fill="#d7e7f1" stroke="#3a3a3a" stroke-width="0.8" stroke-linejoin="round"/><polygon points="1387.6,54.3 1393,52.1 1397.7,55.5 1393,59.9" fill="#d7e7f1" stroke="#3a3a3a" stroke-width="0.8" stroke-linejoin="round"/><polygon points="1395.2,61 1401.1,56 1406.2,61.5 1402,66.9" fill="#d7e7f1" stroke="#3a3a3a" stroke-width="0.8" stroke-linejoin="round"/><polygon points="1405.3,46.4 1409.5,52.1 1416.3,51.4 1420.5,46.4" fill="#d7e7f1" stroke="#3a3a3a" stroke-width="0.8" stroke-linejoin="round"/><polygon points="1440.7,46.4 1447.4,51.4 1451.6,46.4" fill="#d7e7f1" stroke="#3a3a3a" stroke-width="0.8" stroke-linejoin="round"/><polygon points="1412.9,70 1417.9,65.6 1425,64.9 1432.3,64.9 1439.8,72.8 1448.2,76.2 1452,85.1 1447.4,86.3 1439.8,80.4 1432.3,81.2 1424.7,76.2 1417.1,75.4" fill="#d7e7f1" stroke="#3a3a3a" stroke-width="0.8" stroke-linejoin="round"/><polygon points="1403.6,85.5 1408.7,82.1 1414.2,85.1 1409.5,89.7" fill="#d7e7f1" stroke="#3a3a3a" stroke-width="0.8" stroke-linejoin="round"/><polygon points="1412.1,92.2 1417.1,88 1426.7,93.9 1423.8,98.6 1416.3,97.2" fill="#d7e7f1" stroke="#3a3a3a" stroke-width="0.8" stroke-linejoin="round"/><polygon points="1293,75.7 1297.6,77.4 1293.4,78.7" fill="#d7e7f1" stroke="#3a3a3a" stroke-width="0.8" stroke-linejoin="round"/><polygon points="1302.6,77 1309.4,74 1311,77.9 1306.8,80.1" fill="#d7e7f1" stroke="#3a3a3a" stroke-width="0.8" stroke-linejoin="round"/><polygon points="1329.6,77.4 1332.9,75 1338.5,77 1333.4,80.7" fill="#d7e7f1" stroke="#3a3a3a" stroke-width="0.8" stroke-linejoin="round"/><polygon points="1336.8,84.1 1339.7,79.1 1344.7,84.6 1340.2,89.7" fill="#d7e7f1" stroke="#3a3a3a" stroke-width="0.8" stroke-linejoin="round"/><polygon points="1352,93 1355.3,89.7 1358.7,93.5 1355.3,96.9" fill="#d7e7f1" stroke="#3a3a3a" stroke-width="0.8" stroke-linejoin="round"/><polygon points="1400.3,124.2 1401.4,117.8 1406.7,124.2 1404.5,125.9" fill="#d7e7f1" stroke="#3a3a3a" stroke-width="0.8" stroke-linejoin="round"/><polygon points="1476,54.8 1481.9,46.4 1503.8,46.4 1503,56.8 1493.7,64.4 1487.8,59.4 1478.6,57.7" fill="#d7e7f1" stroke="#3a3a3a" stroke-width="0.8" stroke-linejoin="round"/><polygon points="1471.8,77.4 1477.7,73.3 1482.8,77.9 1477.7,82.4" fill="#d7e7f1" stroke="#3a3a3a" stroke-width="0.8" stroke-linejoin="round"/><polygon points="1506.3,76.2 1508.9,70.3 1515.6,70 1513.9,61.9 1516.4,56 1524,46.4 1550.1,46.4 1553.5,54.3 1551.3,62.7 1547.6,65.3 1550.1,70.3 1547.6,86.3 1532.4,77.9 1527.4,80.4 1532.4,90.5 1527.7,85.5 1525.7,80.4 1518.1,77.9 1508.9,82.4" fill="#d7e7f1" stroke="#3a3a3a" stroke-width="0.8" stroke-linejoin="round"/><polygon points="1585.8,59.4 1576.2,61 1566.1,63.6 1561.4,69.5 1561.9,78.4 1569.5,70.3 1579.6,71.1 1583.8,77.9 1585.8,78.7" fill="#d7e7f1" stroke="#3a3a3a" stroke-width="0.8" stroke-linejoin="round"/><polygon points="1585.8,98.9 1578.7,98.6 1571.1,99.8 1562.7,101.4 1569.5,104.8 1572.8,109 1577.9,113.2 1585.8,111.5" fill="#d7e7f1" stroke="#3a3a3a" stroke-width="0.8" stroke-linejoin="round"/><polygon points="1555.7,110.7 1560.2,117.1 1556,122.5 1552.3,116.6" fill="#d7e7f1" stroke="#3a3a3a" stroke-width="0.8" stroke-linejoin="round"/><polygon points="1548.8,132.3 1555.2,126.4 1559.9,131.8 1555.2,135.6" fill="#d7e7f1" stroke="#3a3a3a" stroke-width="0.8" stroke-linejoin="round"/><polygon points="1585.8,126.7 1570.3,125.5 1567.4,131.8 1574.5,135.1 1585.8,136" fill="#d7e7f1" stroke="#3a3a3a" stroke-width="0.8" stroke-linejoin="round"/><polygon points="1566.1,148.6 1570.8,146.1 1575.4,148.6 1570.3,154.8" fill="#d7e7f1" stroke="#3a3a3a" stroke-width="0.8" stroke-linejoin="round"/><polygon points="1585.8,149.4 1573.7,156.2 1579.6,157.8 1585.8,161.2" fill="#d7e7f1" stroke="#3a3a3a" stroke-width="0.8" stroke-linejoin="round"/><polygon points="1559.4,171.3 1562.4,167.1 1565.8,171.6 1562.4,175" fill="#d7e7f1" stroke="#3a3a3a" stroke-width="0.8" stroke-linejoin="round"/><polygon points="1585.8,178 1579.6,174.7 1573.2,179.7 1566.9,186.8 1574.5,194 1581.2,196.6 1585.8,195.7" fill="#d7e7f1" stroke="#3a3a3a" stroke-width="0.8" stroke-linejoin="round"/><polygon points="1526.5,54.3 1532.4,51.8 1545.9,61.9 1542.5,70.3 1532.4,78.7 1525.7,66.1 1529.1,60.2" fill="#f8f8f8" stroke="#3a3a3a" stroke-width="0.8" stroke-linejoin="round"/></g><rect x="824.3" y="46.3" width="761.5" height="393.0" fill="none" stroke="#5a5a5a" stroke-width="1"/><line x1="952.6" y1="46.3" x2="952.6" y2="56.3" stroke="#555" stroke-width="1"/><line x1="952.6" y1="439.3" x2="952.6" y2="429.3" stroke="#555" stroke-width="1"/><line x1="1080.9" y1="46.3" x2="1080.9" y2="56.3" stroke="#555" stroke-width="1"/><line x1="1080.9" y1="439.3" x2="1080.9" y2="429.3" stroke="#555" stroke-width="1"/><line x1="1209.2" y1="46.3" x2="1209.2" y2="56.3" stroke="#555" stroke-width="1"/><line x1="1209.2" y1="439.3" x2="1209.2" y2="429.3" stroke="#555" stroke-width="1"/><line x1="1337.5" y1="46.3" x2="1337.5" y2="56.3" stroke="#555" stroke-width="1"/><line x1="1337.5" y1="439.3" x2="1337.5" y2="429.3" stroke="#555" stroke-width="1"/><line x1="1465.8" y1="46.3" x2="1465.8" y2="56.3" stroke="#555" stroke-width="1"/><line x1="1465.8" y1="439.3" x2="1465.8" y2="429.3" stroke="#555" stroke-width="1"/><line x1="824.3" y1="112" x2="834.3" y2="112" stroke="#6b3a30" stroke-width="1"/><line x1="1585.8" y1="112" x2="1575.8" y2="112" stroke="#555" stroke-width="1"/><line x1="824.3" y1="242.5" x2="834.3" y2="242.5" stroke="#6b3a30" stroke-width="1"/><line x1="1585.8" y1="242.5" x2="1575.8" y2="242.5" stroke="#555" stroke-width="1"/><line x1="824.3" y1="373" x2="834.3" y2="373" stroke="#6b3a30" stroke-width="1"/><line x1="1585.8" y1="373" x2="1575.8" y2="373" stroke="#555" stroke-width="1"/><text x="824.3" y="457.3" font-size="17.5" text-anchor="middle">-0.015</text><text x="952.6" y="457.3" font-size="17.5" text-anchor="middle">-0.01</text><text x="1080.9" y="457.3" font-size="17.5" text-anchor="middle">-0.005</text><text x="1209.2" y="457.3" font-size="17.5" text-anchor="middle">0</text><text x="1337.5" y="457.3" font-size="17.5" text-anchor="middle">0.005</text><text x="1465.8" y="457.3" font-size="17.5" text-anchor="middle">0.01</text><text x="822" y="118" font-size="17.5" text-anchor="end">0.005</text><text x="822" y="248.5" font-size="17.5" text-anchor="end">0</text><text x="822" y="379" font-size="17.5" text-anchor="end">-0.005</text><g transform="translate(859.2,59.1) rotate(-50)"><text x="0" y="4.95" text-anchor="middle" font-size="15" fill="#000" stroke="#000" stroke-width="0.7" stroke-linejoin="round">0</text></g><g transform="translate(932.8,53.6) rotate(5)"><text x="0" y="4.95" text-anchor="middle" font-size="15" fill="#000" stroke="#000" stroke-width="0.7" stroke-linejoin="round">0</text></g><g transform="translate(865.1,85.8) rotate(-50)"><rect x="-12.25" y="-7.5" width="24.5" height="15" fill="#e4eef5" opacity="0.55"/><text x="0" y="4.95" text-anchor="middle" font-size="15" fill="#000" stroke="#000" stroke-width="0.7" stroke-linejoin="round">-20</text></g><g transform="translate(923.6,99.2) rotate(-15)"><text x="0" y="4.95" text-anchor="middle" font-size="15" fill="#000" stroke="#000" stroke-width="0.7" stroke-linejoin="round">0</text></g><g transform="translate(847.6,108.4) rotate(10)"><text x="0" y="4.95" text-anchor="middle" font-size="15" fill="#000" stroke="#000" stroke-width="0.7" stroke-linejoin="round">0</text></g><g transform="translate(838,114.5) rotate(60)"><text x="0" y="4.95" text-anchor="middle" font-size="15" fill="#000" stroke="#000" stroke-width="0.7" stroke-linejoin="round">20</text></g><g transform="translate(840,121.5) rotate(55)"><text x="0" y="4.95" text-anchor="middle" font-size="15" fill="#000" stroke="#000" stroke-width="0.7" stroke-linejoin="round">40</text></g><g transform="translate(849,137) rotate(60)"><text x="0" y="4.95" text-anchor="middle" font-size="15" fill="#000" stroke="#000" stroke-width="0.7" stroke-linejoin="round">0</text></g><g transform="translate(838.9,143.3) rotate(90)"><rect x="-8.5" y="-7.5" width="17" height="15" fill="#f2c4b8" opacity="0.55"/><text x="0" y="4.95" text-anchor="middle" font-size="15" fill="#000" stroke="#000" stroke-width="0.7" stroke-linejoin="round">80</text></g><g transform="translate(936.5,194.9) rotate(40)"><rect x="-8.5" y="-7.5" width="17" height="15" fill="#fdeee6" opacity="0.55"/><text x="0" y="4.95" text-anchor="middle" font-size="15" fill="#000" stroke="#000" stroke-width="0.7" stroke-linejoin="round">20</text></g><g transform="translate(877.6,221.6) rotate(70)"><rect x="-8.5" y="-7.5" width="17" height="15" fill="#f6d0c0" opacity="0.55"/><text x="0" y="4.95" text-anchor="middle" font-size="15" fill="#000" stroke="#000" stroke-width="0.7" stroke-linejoin="round">60</text></g><g transform="translate(838.9,230.3) rotate(90)"><rect x="-8.5" y="-7.5" width="17" height="15" fill="#f2c4b8" opacity="0.55"/><text x="0" y="4.95" text-anchor="middle" font-size="15" fill="#000" stroke="#000" stroke-width="0.7" stroke-linejoin="round">80</text></g><g transform="translate(834.3,303) rotate(70)"><rect x="-8.5" y="-7.5" width="17" height="15" fill="#fbe4da" opacity="0.55"/><text x="0" y="4.95" text-anchor="middle" font-size="15" fill="#000" stroke="#000" stroke-width="0.7" stroke-linejoin="round">20</text></g><g transform="translate(860.5,323.7) rotate(20)"><rect x="-8.5" y="-7.5" width="17" height="15" fill="#f8d3c4" opacity="0.55"/><text x="0" y="4.95" text-anchor="middle" font-size="15" fill="#000" stroke="#000" stroke-width="0.7" stroke-linejoin="round">60</text></g><g transform="translate(840.3,338.5) rotate(60)"><text x="0" y="4.95" text-anchor="middle" font-size="15" fill="#000" stroke="#000" stroke-width="0.7" stroke-linejoin="round">0</text></g><g transform="translate(859.2,340.8) rotate(65)"><rect x="-8.5" y="-7.5" width="17" height="15" fill="#fbe0d4" opacity="0.55"/><text x="0" y="4.95" text-anchor="middle" font-size="15" fill="#000" stroke="#000" stroke-width="0.7" stroke-linejoin="round">40</text></g><g transform="translate(860.5,382.2) rotate(60)"><rect x="-8.5" y="-7.5" width="17" height="15" fill="#fdf0ea" opacity="0.55"/><text x="0" y="4.95" text-anchor="middle" font-size="15" fill="#000" stroke="#000" stroke-width="0.7" stroke-linejoin="round">20</text></g><g transform="translate(834.3,401) rotate(-80)"><rect x="-12.25" y="-7.5" width="24.5" height="15" fill="#7f9fd8" opacity="0.55"/><text x="0" y="4.95" text-anchor="middle" font-size="15" fill="#000" stroke="#000" stroke-width="0.7" stroke-linejoin="round">-80</text></g><g transform="translate(850,423.1) rotate(15)"><rect x="-4.75" y="-7.5" width="9.5" height="15" fill="#a8c4e6" opacity="0.55"/><text x="0" y="4.95" text-anchor="middle" font-size="15" fill="#000" stroke="#000" stroke-width="0.7" stroke-linejoin="round">0</text></g><g transform="translate(972.4,370.7) rotate(55)"><rect x="-8.5" y="-7.5" width="17" height="15" fill="#fdeae0" opacity="0.55"/><text x="0" y="4.95" text-anchor="middle" font-size="15" fill="#000" stroke="#000" stroke-width="0.7" stroke-linejoin="round">40</text></g><g transform="translate(969.6,389.5) rotate(50)"><rect x="-8.5" y="-7.5" width="17" height="15" fill="#f8d2c3" opacity="0.55"/><text x="0" y="4.95" text-anchor="middle" font-size="15" fill="#000" stroke="#000" stroke-width="0.7" stroke-linejoin="round">60</text></g><g transform="translate(920.4,429.6) rotate(0)"><rect x="-4.75" y="-7.5" width="9.5" height="15" fill="#e8b8b8" opacity="0.55"/><text x="0" y="4.95" text-anchor="middle" font-size="15" fill="#000" stroke="#000" stroke-width="0.7" stroke-linejoin="round">0</text></g><g transform="translate(987.1,425) rotate(20)"><text x="0" y="4.95" text-anchor="middle" font-size="15" fill="#000" stroke="#000" stroke-width="0.7" stroke-linejoin="round">0</text></g><g transform="translate(1025.3,425.9) rotate(-85)"><text x="0" y="4.95" text-anchor="middle" font-size="15" fill="#000" stroke="#000" stroke-width="0.7" stroke-linejoin="round">60</text></g><g transform="translate(1058.4,430.5) rotate(0)"><text x="0" y="4.95" text-anchor="middle" font-size="15" fill="#000" stroke="#000" stroke-width="0.7" stroke-linejoin="round">0</text></g><g transform="translate(1064.4,402.9) rotate(-55)"><rect x="-8.5" y="-7.5" width="17" height="15" fill="#fbfbfb" opacity="0.55"/><text x="0" y="4.95" text-anchor="middle" font-size="15" fill="#000" stroke="#000" stroke-width="0.7" stroke-linejoin="round">20</text></g><g transform="translate(1136.7,425) rotate(-20)"><text x="0" y="4.95" text-anchor="middle" font-size="15" fill="#000" stroke="#000" stroke-width="0.7" stroke-linejoin="round">0</text></g><g transform="translate(1186.8,398.3) rotate(-10)"><text x="0" y="4.95" text-anchor="middle" font-size="15" fill="#000" stroke="#000" stroke-width="0.7" stroke-linejoin="round">0</text></g><g transform="translate(1237,421.3) rotate(-30)"><text x="0" y="4.95" text-anchor="middle" font-size="15" fill="#000" stroke="#000" stroke-width="0.7" stroke-linejoin="round">0</text></g><g transform="translate(1303.7,412.1) rotate(-35)"><text x="0" y="4.95" text-anchor="middle" font-size="15" fill="#000" stroke="#000" stroke-width="0.7" stroke-linejoin="round">0</text></g><g transform="translate(1349.7,388.2) rotate(-20)"><text x="0" y="4.95" text-anchor="middle" font-size="15" fill="#000" stroke="#000" stroke-width="0.7" stroke-linejoin="round">0</text></g><g transform="translate(1371.3,357.3) rotate(-20)"><text x="0" y="4.95" text-anchor="middle" font-size="15" fill="#000" stroke="#000" stroke-width="0.7" stroke-linejoin="round">0</text></g><g transform="translate(1395.7,408.9) rotate(90)"><text x="0" y="4.95" text-anchor="middle" font-size="15" fill="#000" stroke="#000" stroke-width="0.7" stroke-linejoin="round">0</text></g><g transform="translate(1497,305.3) rotate(90)"><text x="0" y="4.95" text-anchor="middle" font-size="15" fill="#000" stroke="#000" stroke-width="0.7" stroke-linejoin="round">0</text></g><g transform="translate(1503.9,314.5) rotate(60)"><text x="0" y="4.95" text-anchor="middle" font-size="15" fill="#000" stroke="#000" stroke-width="0.7" stroke-linejoin="round">0</text></g><g transform="translate(1520,367.4) rotate(-15)"><text x="0" y="4.95" text-anchor="middle" font-size="15" fill="#000" stroke="#000" stroke-width="0.7" stroke-linejoin="round">0</text></g><g transform="translate(1540.2,412.1) rotate(-5)"><text x="0" y="4.95" text-anchor="middle" font-size="15" fill="#000" stroke="#000" stroke-width="0.7" stroke-linejoin="round">0</text></g><g transform="translate(1506.2,428.6) rotate(-35)"><text x="0" y="4.95" text-anchor="middle" font-size="15" fill="#000" stroke="#000" stroke-width="0.7" stroke-linejoin="round">0</text></g><g transform="translate(1562.3,434.2) rotate(-10)"><text x="0" y="4.95" text-anchor="middle" font-size="15" fill="#000" stroke="#000" stroke-width="0.7" stroke-linejoin="round">0</text></g><g transform="translate(1571.5,180.1) rotate(-30)"><text x="0" y="4.95" text-anchor="middle" font-size="15" fill="#000" stroke="#000" stroke-width="0.7" stroke-linejoin="round">0</text></g><g transform="translate(1571.5,246.9) rotate(-10)"><text x="0" y="4.95" text-anchor="middle" font-size="15" fill="#000" stroke="#000" stroke-width="0.7" stroke-linejoin="round">0</text></g><g transform="translate(1570.6,284.6) rotate(-5)"><text x="0" y="4.95" text-anchor="middle" font-size="15" fill="#000" stroke="#000" stroke-width="0.7" stroke-linejoin="round">0</text></g><g transform="translate(1572.4,326) rotate(-20)"><text x="0" y="4.95" text-anchor="middle" font-size="15" fill="#000" stroke="#000" stroke-width="0.7" stroke-linejoin="round">0</text></g><g transform="translate(1571.5,99.2) rotate(-5)"><text x="0" y="4.95" text-anchor="middle" font-size="15" fill="#000" stroke="#000" stroke-width="0.7" stroke-linejoin="round">0</text></g><g transform="translate(1577,74.3) rotate(-20)"><text x="0" y="4.95" text-anchor="middle" font-size="15" fill="#000" stroke="#000" stroke-width="0.7" stroke-linejoin="round">0</text></g><g transform="translate(1538.4,54.5) rotate(-30)"><text x="0" y="4.95" text-anchor="middle" font-size="15" fill="#000" stroke="#000" stroke-width="0.7" stroke-linejoin="round">0</text></g><g transform="translate(1551.3,62.3) rotate(-60)"><text x="0" y="4.95" text-anchor="middle" font-size="15" fill="#000" stroke="#000" stroke-width="0.7" stroke-linejoin="round">0</text></g><g transform="translate(1425.2,64.6) rotate(0)"><text x="0" y="4.95" text-anchor="middle" font-size="15" fill="#000" stroke="#000" stroke-width="0.7" stroke-linejoin="round">0</text></g><g transform="translate(1399,71.5) rotate(30)"><text x="0" y="4.95" text-anchor="middle" font-size="15" fill="#000" stroke="#000" stroke-width="0.7" stroke-linejoin="round">0</text></g><g transform="translate(1360.8,56.8) rotate(-25)"><text x="0" y="4.95" text-anchor="middle" font-size="15" fill="#000" stroke="#000" stroke-width="0.7" stroke-linejoin="round">0</text></g><g transform="translate(1246.6,50.8) rotate(0)"><text x="0" y="4.95" text-anchor="middle" font-size="15" fill="#000" stroke="#000" stroke-width="0.7" stroke-linejoin="round">0</text></g><rect x="964.7" y="58.7" width="70.29999999999995" height="20.200000000000003" fill="#fff"/><line x1="912.4" y1="69.0" x2="963.7" y2="73.4" stroke="#ff33cc" stroke-width="3"/><polygon points="895.5,67.6 911.8,76.0 913.0,62.1" fill="#ff33cc"/><circle cx="888.5" cy="67" r="6.8" fill="#ff33cc"/><text x="974" y="75.2" font-size="21" fill="#ff33cc">-19.4°</text><rect x="940.7" y="104.3" width="60.19999999999993" height="20.700000000000003" fill="#fff"/><line x1="887.2" y1="109.2" x2="940.6" y2="114.1" stroke="#00b050" stroke-width="3"/><polygon points="870.3,107.6 886.6,116.1 887.9,102.2" fill="#00b050"/><circle cx="863.3" cy="107" r="6.8" fill="#00b050"/><text x="950.5" y="120.6" font-size="21" fill="#00b050">-4.5°</text><rect x="919.8" y="144.3" width="60.200000000000045" height="21.299999999999983" fill="#fff"/><line x1="868.9" y1="135.9" x2="919.8" y2="154.8" stroke="#0000ff" stroke-width="3"/><polygon points="853.0,130.0 866.5,142.5 871.4,129.4" fill="#0000ff"/><circle cx="847" cy="127.5" r="6.8" fill="#0000ff"/><text x="927.6" y="161.8" font-size="21" fill="#0000ff">39.7°</text>
<!-- b2 -->
<defs><clipPath id="cB2"><rect x="824.3" y="546.3" width="761.5" height="392.70000000000005"/></clipPath></defs><rect x="824.3" y="546.3" width="761.5" height="392.70000000000005" fill="#d7e7f1"/><g clip-path="url(#cB2)"><polygon points="1215.4,546.4 1230.7,554.2 1236.6,562.4 1231.9,570.7 1240.1,573.7 1250.7,570.7 1257.8,562.4 1279,557.7 1282.5,554.9 1287.2,554.2 1288.9,567.1 1290.8,570.7 1287.2,574.2 1279,563.6 1261.3,572.3 1255.4,577.7 1254.9,585.5 1267.2,583.6 1274.3,600.1 1286.1,616.6 1280.2,633.1 1286.1,641.4 1293.1,641.4 1304.9,654.3 1304.4,663.8 1308.4,666.6 1311.5,663.3 1310.8,656.7 1316.7,653.9 1324.2,648.4 1333.2,644.4 1340.3,632.7 1349.7,627.2 1359.1,609.6 1361.5,593.1 1366.2,576.6 1363.8,561.2 1354.4,556.5 1346.2,546.4" fill="#f8f8f8" stroke="#3a3a3a" stroke-width="0.9" stroke-linejoin="round"/><polygon points="1238.9,546.4 1242.5,549.5 1244.8,546.4" fill="#d7e7f1" stroke="#3a3a3a" stroke-width="0.7" stroke-linejoin="round"/><polygon points="1253.1,546.4 1257.8,550.2 1262.5,546.4" fill="#d7e7f1" stroke="#3a3a3a" stroke-width="0.7" stroke-linejoin="round"/><polygon points="1321.4,546.4 1324.9,551.8 1329.7,546.4" fill="#d7e7f1" stroke="#3a3a3a" stroke-width="0.7" stroke-linejoin="round"/><polygon points="1293.1,546.4 1294.3,550.6 1295.5,546.4" fill="#d7e7f1" stroke="#3a3a3a" stroke-width="0.7" stroke-linejoin="round"/><polygon points="1268.4,577.3 1270.7,573 1273.6,577.3 1270.7,582.5" fill="#d7e7f1" stroke="#3a3a3a" stroke-width="0.7" stroke-linejoin="round"/><polygon points="1314.8,554.2 1317.2,552.5 1319.8,554.2 1317.2,555.8" fill="#d7e7f1" stroke="#3a3a3a" stroke-width="0.7" stroke-linejoin="round"/><polygon points="1418,546.4 1416.9,555.4 1418,562.4 1429.8,563.6 1441.6,569 1458.1,570.7 1466.4,564.8 1461.6,560.1 1472.2,560.1 1484,570.7 1485.9,578.4 1481.7,583.2 1477,590.7 1467.5,593.1 1481.7,594.9 1486.4,582.5 1494.6,590.7 1501.7,593.5 1493.5,599 1485.2,609.6 1499.3,616.6 1494.6,624.9 1485.2,630.8 1488.7,639 1492.3,640.2 1493.5,648.4 1495.8,649.2 1496.3,641.4 1504.1,636.7 1517,643.7 1533.5,633.1 1554.7,615.5 1560.6,617.8 1564.2,629.6 1557.1,642.6 1544.1,641.4 1543,648.4 1550,650.8 1559.4,647.3 1566.5,630.8 1586.1,627.2 1586.1,611.9 1578.3,614.3 1572.4,609.6 1580.7,602.5 1586.1,601.3 1586.1,578.9 1568.9,580.1 1559.4,576.6 1552.4,570.7 1546.5,575.4 1544.1,566 1533.5,553 1525.3,551.8 1526.5,562.4 1519.4,565.3 1515.8,563.6 1519.4,554.2 1524.1,546.4" fill="#f8f8f8" stroke="#3a3a3a" stroke-width="0.9" stroke-linejoin="round"/><polygon points="1442.8,546.4 1454.6,558.9 1464,546.4" fill="#d7e7f1" stroke="#3a3a3a" stroke-width="0.7" stroke-linejoin="round"/><polygon points="1475.8,555.4 1481.7,546.4 1505.2,546.4 1504.1,557.7 1493.5,566.7 1486.4,557.7" fill="#d7e7f1" stroke="#3a3a3a" stroke-width="0.7" stroke-linejoin="round"/><polygon points="1432.2,554.2 1440.4,551.1 1443.5,554.9 1433.4,558.2" fill="#d7e7f1" stroke="#3a3a3a" stroke-width="0.7" stroke-linejoin="round"/><polygon points="1506.4,575.4 1511.1,571.9 1518.2,576.6 1510,582" fill="#d7e7f1" stroke="#3a3a3a" stroke-width="0.7" stroke-linejoin="round"/><polygon points="1538.2,576.6 1541.8,574.2 1545.3,577 1540.6,579.4" fill="#d7e7f1" stroke="#3a3a3a" stroke-width="0.7" stroke-linejoin="round"/><polygon points="1515.1,632.4 1517,630.3 1518.9,632.4 1517,634.5" fill="#d7e7f1" stroke="#3a3a3a" stroke-width="0.7" stroke-linejoin="round"/><polygon points="1557.1,546.4 1563,553 1566.5,546.4" fill="#f8f8f8" stroke="#3a3a3a" stroke-width="0.7" stroke-linejoin="round"/><polygon points="1476.5,672 1486.4,664.2 1495.8,663.3 1486.4,673.2" fill="#f8f8f8" stroke="#3a3a3a" stroke-width="0.9" stroke-linejoin="round"/><polygon points="1519.4,655.5 1525.3,650.8 1532.3,650.3 1538.2,660.9 1547.7,670.8 1546.5,673.2 1533.5,662.6 1526.5,661.4" fill="#f8f8f8" stroke="#3a3a3a" stroke-width="0.9" stroke-linejoin="round"/><polygon points="1570.1,670.8 1575.9,663.8 1586.1,662.6 1586.1,676.7 1578.3,672" fill="#f8f8f8" stroke="#3a3a3a" stroke-width="0.9" stroke-linejoin="round"/><polygon points="1525.3,677.9 1519.4,685 1513.5,694.4 1520.6,699.1 1527.6,706.2 1533.5,712.1 1532.3,718 1520.6,727.4 1526.5,732.1 1531.2,729.8 1543,732.1 1554.7,740.4 1570.1,742.7 1586.1,743.9 1586.1,699.1 1578.3,699.1 1566.5,692 1543,692 1533.5,695.6 1524.1,689.7 1525.3,682.6" fill="#f8f8f8" stroke="#3a3a3a" stroke-width="0.9" stroke-linejoin="round"/><polygon points="1407.4,938.9 1401.5,925.3 1407.4,913.5 1403.9,906.4 1416.9,892.3 1429.8,882.8 1427.5,873.4 1422.8,868.7 1432.2,854.6 1439.3,859.3 1455.7,842.8 1458.1,852.2 1472.2,860.4 1478.1,851 1491.1,852.2 1486.4,860.4 1495.8,864 1505.2,868.7 1512.3,885.2 1510,906.4 1502.9,920.5 1500.5,938.9" fill="#f8f8f8" stroke="#3a3a3a" stroke-width="0.9" stroke-linejoin="round"/><polygon points="1440.4,860.4 1447.5,855.7 1460.5,868.7 1444,868.2" fill="#d7e7f1" stroke="#3a3a3a" stroke-width="0.7" stroke-linejoin="round"/><polygon points="1438.1,938.9 1439.3,922.9 1448.7,911.1 1458.1,920.5 1465.2,930 1465.2,938.9" fill="#d7e7f1" stroke="#3a3a3a" stroke-width="0.7" stroke-linejoin="round"/><polygon points="1401.5,924.1 1405.1,920.5 1412.1,924.1 1408.6,928.1" fill="#d7e7f1" stroke="#3a3a3a" stroke-width="0.7" stroke-linejoin="round"/><polygon points="1511.1,860.4 1518.2,858.8 1522.9,861.2 1517,863.5" fill="#f8f8f8" stroke="#3a3a3a" stroke-width="0.7" stroke-linejoin="round"/><polygon points="1521.7,875.8 1533.5,866.3 1546.5,849.8 1557.1,854.6 1586.1,848.7 1586.1,913.5 1580.7,905.2 1572.4,907.6 1563,908.8 1554.7,899.3 1540.6,889.9 1526.5,882.8" fill="#f8f8f8" stroke="#3a3a3a" stroke-width="0.9" stroke-linejoin="round"/><polygon points="1533.5,867.5 1539.4,862.3 1544.1,868.7 1539.4,873.4" fill="#d7e7f1" stroke="#3a3a3a" stroke-width="0.7" stroke-linejoin="round"/><polygon points="1575.9,875.8 1586.1,871.1 1586.1,879.3" fill="#d7e7f1" stroke="#3a3a3a" stroke-width="0.7" stroke-linejoin="round"/><polygon points="1557.8,765.8 1563.3,755.9 1565.2,758.4 1577.5,762.1 1586.2,762.7 1586.2,783.1 1578.8,783.7 1570.7,783.1 1562.7,775.7 1559,769.5" fill="#f8f8f8" stroke="#3a3a3a" stroke-width="0.9" stroke-linejoin="round"/><polygon points="1580,766.4 1586.2,764.6 1586.2,775.7 1583.1,774.4" fill="#fce0d0" stroke="#3a3a3a" stroke-width="0.7" stroke-linejoin="round"/><polygon points="1582.5,767 1586.2,765.8 1586.2,772" fill="#f7b599" stroke="#3a3a3a" stroke-width="0.5" stroke-linejoin="round"/><polygon points="1580,758.4 1586.2,752.8 1586.2,759.6" fill="#acd0e6" stroke="#3a3a3a" stroke-width="0.7" stroke-linejoin="round"/><polygon points="1570.1,804.7 1575.1,797.3 1586.2,791.7 1586.2,804.7 1578.8,809" fill="#acd0e6" stroke="#3a3a3a" stroke-width="0.7" stroke-linejoin="round"/><polygon points="1576.9,805.3 1578.5,803.5 1580.2,805.3 1578.5,806.8" fill="#7cb4d6" stroke="#3a3a3a" stroke-width="0.5" stroke-linejoin="round"/><polygon points="1568.3,821.4 1571.4,814.6 1586.2,810.2 1586.2,829.4 1577.5,827.5 1570.1,823.8" fill="#f8f8f8" stroke="#3a3a3a" stroke-width="0.9" stroke-linejoin="round"/><polygon points="1523.2,730 1525.1,731.9 1528.1,732.5 1533.1,730" fill="#f8f8f8" stroke="#3a3a3a" stroke-width="0.7" stroke-linejoin="round"/><polygon points="1575.9,938.9 1580.7,932.8 1586.1,931.9 1586.1,938.9" fill="#acd0e6" stroke="#3a3a3a" stroke-width="0.7" stroke-linejoin="round"/><polygon points="1566.5,938.9 1570.1,934.7 1573.6,938.9" fill="#f8f8f8" stroke="#3a3a3a" stroke-width="0.7" stroke-linejoin="round"/><polygon points="1384.6,938.9 1386.9,936.6 1389.3,938.9" fill="#f8f8f8" stroke="#3a3a3a" stroke-width="0.7" stroke-linejoin="round"/><polygon points="1210.6,710.9 1227.1,708.5 1226,702.7 1233,701 1262.5,706.2 1266,710.9 1279,719.9 1264,734.9 1264.6,741.7 1255.3,741.7 1247.9,748.5 1239.3,742.3 1238,749.8 1242.3,758.4 1239.3,760.2 1229.4,759.6 1225.1,755.3 1223.2,758.4 1208.4,764 1192.3,766.4 1180,774.4 1175.1,775.9 1168.4,782.1 1155.4,790.5 1140.3,800 1132.4,801.2 1129.1,806.2 1117.3,810.1 1112.8,805.1 1115.6,798.4 1109.4,797.2 1115.6,796 1117.8,790.5 1122.3,786 1134.7,777 1148.1,763.6 1154.9,762.4 1157.1,759.1 1171.2,748.4 1178.5,754 1190.8,740 1194.8,730 1200,722" fill="#acd0e6" stroke="#3a3a3a" stroke-width="0.9" stroke-linejoin="round"/><polygon points="1266.5,703.4 1270,699.4 1273.5,703.4 1270,707.4" fill="#acd0e6" stroke="#3a3a3a" stroke-width="0.7" stroke-linejoin="round"/><polygon points="1230.6,847.7 1239.3,833.7 1249.1,828.8 1247.3,822 1254.1,810.2 1265.2,805.3 1270.1,789.3 1283.7,781.9 1289.9,765.8 1296,760.2 1302.2,759 1299.8,750.4 1307.2,741.7 1323.2,734.3 1333.1,746.7 1340.5,747.3 1352.8,757.2 1365.2,767 1362.7,773.2 1371.4,773.2 1384.9,790.5 1377.5,809 1372.6,818.9 1361.5,827.5 1360.2,847.7 1360.9,852.3 1352.8,864.7 1350.4,877 1351.6,891.9 1347.9,900.5 1340.5,904.8 1328.1,901.7 1315.8,903 1308.4,906.7 1303.5,916.5 1294.8,928.9 1292.3,939 1217,939 1209.6,931.4 1196,924 1190.5,914.1 1191.1,891.9 1194.8,877 1202.2,864.7 1217,858.5 1230.6,852.3" fill="#acd0e6" stroke="#3a3a3a" stroke-width="0.9" stroke-linejoin="round"/><polygon points="1251.6,847.7 1264,836.2 1276.3,825.1 1286.2,814.6 1294.8,814 1294.8,804.1 1302.2,797.3 1309.6,801.6 1318.3,797.3 1323.2,805.3 1323.2,814 1340.5,825.1 1344.2,832.5 1340.5,847.7 1336.8,858.5 1343,869.6 1336.8,883.2 1342.3,891.9 1335.6,899.3 1328.1,900.5 1315.8,901.7 1308.4,905.4 1303.5,915.3 1293.6,928.9 1291.1,939 1222,939 1214.6,928.9 1202.2,921.5 1197.3,909.1 1198.5,891.9 1202.2,878.3 1212.1,872.1 1229.4,864.7 1249.1,852.3" fill="#7cb4d6" stroke="#3a3a3a" stroke-width="0.9" stroke-linejoin="round"/><polygon points="1322,790.5 1331.9,788.6 1340.5,780 1347.9,787.4 1355.3,784.3 1358.4,789.9 1340.5,796.7 1333.1,793 1325.1,797.3" fill="#7cb4d6" stroke="#3a3a3a" stroke-width="0.9" stroke-linejoin="round"/><polygon points="1203.5,891.9 1205.9,880.7 1217,875.8 1231.9,872.1 1249.1,868.4 1264,859.8 1271.4,853.6 1278.8,850.5 1286.2,856 1293.6,854.8 1301,849.3 1309.6,853 1324.4,849.3 1328.1,853.6 1325.7,864.7 1331.9,877 1329.4,889.4 1328.1,899.3 1315.8,900.5 1308.4,904.2 1303.5,914.1 1298.5,926.4 1291.1,939 1225.7,939 1219.5,931.4 1208.4,924 1201,911.6" fill="#3e8ac0" stroke="#3a3a3a" stroke-width="0.9" stroke-linejoin="round"/><polygon points="1213.3,915.3 1224.4,894.3 1231.9,890.6 1240.5,894.3 1254.1,889.4 1271.4,879.5 1278.8,878.3 1281.9,883.2 1278.8,888.1 1286.2,889.4 1291.1,893.1 1296,899.3 1302.2,896.2 1310.2,899.3 1303.5,910.4 1301,916.5 1296,926.4 1241.7,939 1226.9,939 1225.7,924" fill="#0a4e9e" stroke="#3a3a3a" stroke-width="0.9" stroke-linejoin="round"/><polygon points="1234.3,932 1241.7,925.2 1241.7,916.5 1249.1,910.4 1251.6,899.3 1259,895.6 1268.9,895.6 1278.8,888.1 1286.2,895.6 1294.8,898 1291.1,906.7 1298.5,915.3 1299.8,921.5 1293.6,928.9 1292.3,939 1241.7,939" fill="#d15b49" stroke="#6b6b6b" stroke-width="3" stroke-linejoin="round"/><polygon points="1256.5,939 1259,931.4 1264,914.1 1271.4,905.4 1277.5,907.9 1278.8,916.5 1288.6,912.8 1294.8,919 1291.1,926.4 1278.8,928.9 1268.9,932.6 1265.2,939" fill="#e98f71" stroke="#3a3a3a" stroke-width="0.7" stroke-linejoin="round"/><polygon points="1260.2,939 1266.4,933.8 1278.8,930.7 1294.2,928.3 1293,939" fill="#fce0d0" stroke="#3a3a3a" stroke-width="0.7" stroke-linejoin="round"/><polygon points="1266.4,939 1271.4,935.7 1281.2,933.2 1293.6,931.4 1293,939" fill="#f8f8f8" stroke="#3a3a3a" stroke-width="0.7" stroke-linejoin="round"/><polygon points="1292.3,939 1296,928.9 1303.5,917.8 1308.4,909.1 1315.8,906 1325.7,904.2 1333.1,909.1 1340.5,910.4 1347.9,916.5 1345.4,928.9 1340.5,935.1 1336.8,939" fill="#d7e7f1" stroke="#3a3a3a" stroke-width="0.7" stroke-linejoin="round"/><polygon points="1310.9,939 1317,931.4 1315.8,924 1315.8,916.5 1324.4,912.8 1331.9,919 1336.8,928.9 1336.8,939" fill="#f8f8f8" stroke="#3a3a3a" stroke-width="0.7" stroke-linejoin="round"/><polygon points="1331.9,914.1 1340.5,910.4 1347.9,916.5 1345.4,928.9 1340.5,935.1 1338,926.4" fill="#acd0e6" stroke="#3a3a3a" stroke-width="0.7" stroke-linejoin="round"/><polygon points="1326.9,924 1331.9,919 1335.6,924 1333.1,935.1 1329.4,931.4" fill="#fce0d0" stroke="#3a3a3a" stroke-width="0.7" stroke-linejoin="round"/><polygon points="1329.4,925.2 1332.1,922.1 1333.7,925.2 1332.5,931.4" fill="#f7b599" stroke="#3a3a3a" stroke-width="0.5" stroke-linejoin="round"/><polygon points="1183.7,939 1187.4,935.1 1193.6,934.4 1198.5,939" fill="#f8f8f8" stroke="#3a3a3a" stroke-width="0.7" stroke-linejoin="round"/><polygon points="1095.4,546.4 1184.1,546.4 1177.3,554.6 1176.8,568.1 1167.2,577 1165,588.3 1156,590.5 1149.3,600.6 1140.3,602.3 1134.1,608.5 1127.9,616.3 1117.8,630.3 1109.4,621.4 1102.1,625.3 1088.7,615.8 1084.2,617.4 1077.4,625.3 1071.8,627.5 1067.3,630.9 1078.6,611.8 1089.8,602.9 1101,592.7 1112.2,584.9 1116.7,575.9 1123.5,562.4 1123.5,556.8 1114.5,551.2 1110,546.4" fill="#f8f8f8" stroke="#3a3a3a" stroke-width="0.9" stroke-linejoin="round"/><polygon points="926,575 960,568 1000,561.3 1019.1,557.4 1038.2,556.8 1048.3,565.8 1060.6,569.7 1071.8,569.7 1078.6,564.7 1072,560 1067.3,552.3 1069.6,546.3 944,546.3 941,556 936,566" fill="#f8f8f8" stroke="#3a3a3a" stroke-width="0.9" stroke-linejoin="round"/><polygon points="956.9,687.1 963.7,698.4 971.5,709.6 982.7,716.3 997.3,725.3 1010.1,740 1016.8,751.2 1028.1,762.4 1041.5,770.9 1056.1,774.8 1064,779.3 1071.8,783.8 1078.6,784.3 1087,789.4 1085.3,802.9 1084,812 1093.2,820.8 1101,823.6 1107.7,820.2 1126.8,820.2 1140.3,833.2 1148.1,836.5 1140.3,839.9 1139.2,847 1137.5,851.2 1131.9,860.8 1134.7,868.1 1123.5,877 1121.2,887.1 1116.2,892.2 1119.5,898.9 1117.8,901.7 1109.4,898.9 1101,902.9 1087.5,902.9 1079.1,898.9 1070.7,904 1069.6,907.9 1079.5,912.4 1094.3,915.2 1093.2,923.1 1101.6,927.5 1109.4,924.2 1121.2,928.7 1133,939 824.3,939 824.3,818 936,693 947,686" fill="#f8f8f8" stroke="#3a3a3a" stroke-width="0.9" stroke-linejoin="round"/><polygon points="883.4,939 884,932 893.5,926.2 902.5,930.3 904.2,939" fill="#d7e7f1" stroke="#3a3a3a" stroke-width="0.7" stroke-linejoin="round"/><polygon points="995.6,939 1001.8,930.3 1008.6,939" fill="#d7e7f1" stroke="#3a3a3a" stroke-width="0.7" stroke-linejoin="round"/><polygon points="1000,930.9 1002.2,930.9 1009,939 1000,939" fill="#d7e7f1" stroke="#3a3a3a" stroke-width="0.7" stroke-linejoin="round"/><polygon points="1023.6,939 1020.8,931.5 1024.7,929.2 1032.5,933.2 1040.4,925.9 1048.3,930.3 1056.1,924.7 1061.7,931.5 1062.9,939" fill="#d7e7f1" stroke="#3a3a3a" stroke-width="0.7" stroke-linejoin="round"/><polygon points="1064,939 1071.8,932 1080.8,929.8 1086.4,929.2 1084.2,939" fill="#d7e7f1" stroke="#3a3a3a" stroke-width="0.7" stroke-linejoin="round"/><line x1="1081" y1="929" x2="1081" y2="939" stroke="#555" stroke-width="1"/><polygon points="824.4,546.4 867.5,546.4 863.4,552.9 856,553.6 849.2,557.7 846.5,561 855.3,563.1 860.1,569.2 848.5,584.8 840.4,573.3 834.3,578 835.3,583.4 837,588.9 847.2,598.4 852.6,604.7 855.3,614.7 824.4,614.7" fill="#f8f8f8" stroke="#3a3a3a" stroke-width="0.9" stroke-linejoin="round"/><polygon points="891.3,546.4 908.9,546.4 905.5,553.6 901.5,559.7 896,568.5 885.9,568.2 878.4,565.8 872.3,561.4 879.1,554.6 888.6,553.6" fill="#f8f8f8" stroke="#3a3a3a" stroke-width="0.9" stroke-linejoin="round"/><polygon points="877,561.7 881.1,559 886.5,558.3 889.2,561.7 887.2,564.4 882.5,565.1" fill="#fce0d0" stroke="#3a3a3a" stroke-width="0.7" stroke-linejoin="round"/><polygon points="883.5,561.7 885.5,560.7 887.9,561.9 885.5,563.1" fill="#b98a78" stroke="#3a3a3a" stroke-width="0.4" stroke-linejoin="round"/><polygon points="896,554.3 900.8,552.2 902.8,553.9 900.1,555.3" fill="#fce0d0" stroke="#3a3a3a" stroke-width="0.7" stroke-linejoin="round"/><polygon points="868.9,546.4 876.3,546.4 871.6,551.5" fill="#acd0e6" stroke="#3a3a3a" stroke-width="0.7" stroke-linejoin="round"/><polygon points="908.3,553.6 911,552.2 914.7,554.3 909.6,559.7" fill="#acd0e6" stroke="#3a3a3a" stroke-width="0.7" stroke-linejoin="round"/><polygon points="855.3,546.4 866.2,546.4 863.4,549.5 858.7,548.8" fill="#fce0d0" stroke="#3a3a3a" stroke-width="0.7" stroke-linejoin="round"/><polygon points="824.4,553.6 829.5,556.3 837.7,560.4 847.2,562.4 856,563.4 860.1,569.2 848.5,584.8 840.4,573.3 824.4,571.9" fill="#fce0d0" stroke="#3a3a3a" stroke-width="0.8" stroke-linejoin="round"/><polygon points="836.3,569.9 841,565.8 856,565.1 859.4,569.2 848.5,584.1 840.4,572.6" fill="#f7b599" stroke="#3a3a3a" stroke-width="0.7" stroke-linejoin="round"/><polygon points="841.7,569.9 855.3,567.2 858,568.5 856.7,571.9 852.6,575.3 848.5,580.7 846.5,578 842.4,571.2" fill="#e98f71" stroke="#3a3a3a" stroke-width="0.7" stroke-linejoin="round"/><polygon points="824.4,584.8 826.8,585.1 837,588.9 847.2,599.1 851.9,604.7 853.9,614.7 824.4,614.7" fill="#fce0d0" stroke="#3a3a3a" stroke-width="0.8" stroke-linejoin="round"/><polygon points="828.1,593.6 832.9,591.6 841.7,601.1 842.4,605.2 840.4,610.6 833.6,614.7 826.8,614.7 832.2,604.7 834.9,599.7" fill="#f7b599" stroke="#3a3a3a" stroke-width="0.7" stroke-linejoin="round"/><polygon points="830.9,605.2 837.7,606.5 836.3,610.6 828.8,614.7" fill="#e98f71" stroke="#3a3a3a" stroke-width="0.6" stroke-linejoin="round"/><polygon points="861.4,569.9 864.1,564.4 871.6,563.8 877.7,569.9 872.3,577.3 864.1,575.3" fill="#acd0e6" stroke="#3a3a3a" stroke-width="0.7" stroke-linejoin="round"/><polygon points="863.1,569.9 865.1,566.1 870.9,565.7 875.3,569.9 871.3,575 865.1,573.6" fill="#7cb4d6" stroke="#3a3a3a" stroke-width="0.6" stroke-linejoin="round"/><polygon points="865.5,569.9 866.8,567.8 870.6,567.5 873,569.9 870.2,572.6 866.8,571.9" fill="#3e8ac0" stroke="#3a3a3a" stroke-width="0.5" stroke-linejoin="round"/><polygon points="850.5,593.6 856,587.5 870.2,586.8 879.1,589.6 894.7,577.3 901.5,578 904.2,583.4 901.5,587.5 898.1,607.9 887.9,608.6 881.1,610.6 871.6,612 860.7,610.6 855.3,599.1" fill="#acd0e6" stroke="#3a3a3a" stroke-width="0.8" stroke-linejoin="round"/><polygon points="886.5,593.6 894,584.1 898.1,587.5 898.1,604.7 889.2,601.1" fill="#7cb4d6" stroke="#3a3a3a" stroke-width="0.7" stroke-linejoin="round"/><polygon points="891.3,594.3 894,590.9 896.7,593.6 896.7,601.8 892,601.1" fill="#3e8ac0" stroke="#3a3a3a" stroke-width="0.6" stroke-linejoin="round"/><polygon points="905,620 915,612 926,608 1001,608 1010,612 1030,620 1050,632 1067,640 1078.6,640 1083.6,647.9 1080.8,656.8 1076.3,669.2 1069.6,678.2 1056.1,686 1053.9,693.9 1047.1,700.6 1033.7,701.7 975,705 960,700 950,690 940,720 900,720" fill="#acd0e6" stroke="#3a3a3a" stroke-width="0.9" stroke-linejoin="round"/><polygon points="917.6,630 922,620 930,612 1001,612 1015,618 1035,628 1055,636 1069.6,640 1073,654.6 1062.9,665.8 1048.3,680.4 1040.4,681.5 1033.7,687.1 975,690 962,672 950,662 940,720 910,720" fill="#7cb4d6" stroke="#3a3a3a" stroke-width="0.9" stroke-linejoin="round"/><polygon points="984.5,612 1001,612 1020,622 1045,634 1066.2,640 1056.1,654.6 1044.9,669.2 1033.7,674.8 1010,676 996,656 987,641 984.5,622" fill="#3e8ac0" stroke="#3a3a3a" stroke-width="0.9" stroke-linejoin="round"/><polygon points="993,612 1001,614 1020,626 1040,636 1062,642 1055,649 1033.7,661.3 1022,657 1008,650 1000,640 994,625" fill="#0a4e9e" stroke="#3a3a3a" stroke-width="0.9" stroke-linejoin="round"/><polygon points="946,653 957.5,639 971,635.7 975.5,645.8 977.8,659.3 975,662 975,700 962,690 958,676" fill="#acd0e6" stroke="#3a3a3a" stroke-width="0.7" stroke-linejoin="round"/><polygon points="963.1,665.8 974.9,664.1 974.9,707.3 965.9,693.9 956.9,687.1 960.9,677" fill="#d7e7f1" stroke="#3a3a3a" stroke-width="0.7" stroke-linejoin="round"/><polygon points="824.5,618.7 842.4,611.9 859.3,625.4 866,634.4 868.3,640 864.9,649 858.2,660.2 850.3,662.4 824.5,661.3" fill="#7cb4d6" stroke="#3a3a3a" stroke-width="0.7" stroke-linejoin="round"/><polygon points="824.5,622 834.6,618.7 853.7,623.2 858.2,629.9 862.6,640 858.2,650.1 853.7,652.3 850.3,662.4 849.2,684.9 857,691.6 872.7,697.2 887.3,699.5 909.8,698.4 921,692.7 932.2,682.6 933.4,673.7 937.3,682.6 936.7,692.7 932.2,696.1 932.2,702.9 924.4,708.5 903.1,707.3 894.1,716.3 870.5,715.2 862.6,707.3 854.8,706.2 840.2,690.5 824.5,691.6" fill="#3e8ac0" stroke="#3a3a3a" stroke-width="0.7" stroke-linejoin="round"/><polygon points="824.5,627.7 833.5,626.5 835.7,633.3 832.3,642.2 831.2,646.7 824.5,654.6" fill="#0a4e9e" stroke="#3a3a3a" stroke-width="0.6" stroke-linejoin="round"/><polygon points="824.5,677 851.4,671.4 849.2,682.6 840.2,688.3 824.5,688.3" fill="#0a4e9e" stroke="#3a3a3a" stroke-width="0.6" stroke-linejoin="round"/><polygon points="855.9,696.1 870.5,700.6 882.9,705.1 894.1,706.2 895.2,711.8 871.6,711.8 862.6,705.1 855.9,704" fill="#0a4e9e" stroke="#3a3a3a" stroke-width="0.6" stroke-linejoin="round"/><polygon points="918.8,702.9 925.5,697.2 926.6,705.1 921,706.2" fill="#0a4e9e" stroke="#3a3a3a" stroke-width="0.6" stroke-linejoin="round"/><polygon points="930.5,677 933.4,673.7 934.5,682.6 932.2,687.1" fill="#0a4e9e" stroke="#3a3a3a" stroke-width="0.6" stroke-linejoin="round"/><polygon points="850.3,662.4 849.2,684.9 857,691.6 872.7,697.2 887.3,699.5 909.8,698.4 921,692.7 932.2,682.6 933.4,673.7 932.8,665.8 932.2,656.8 927.7,646.7 921,637.8 918.8,628.8 916.5,622 898.6,618.7 876.1,633.3 864.9,642.2 857,651.2" fill="#7cb4d6" stroke="#3a3a3a" stroke-width="0.8" stroke-linejoin="round"/><polygon points="858.2,660.2 862.6,671.4 871.6,677 876.1,687.1 887.3,690.5 900.8,688.3 916.5,688.3 924.4,678.2 931.1,673.7 932.2,666.9 927.7,660.2 917.6,656.8 914.3,649 917.6,640 915.4,629.9 912,624.3 898.6,626.5 882.9,633.3 870.5,640 864.9,649" fill="#acd0e6" stroke="#3a3a3a" stroke-width="0.8" stroke-linejoin="round"/><polygon points="867.1,651.2 878.4,650.7 885.1,656.8 880.6,662.4 887.3,674.8 907.5,669.7 917.6,676.5 925.5,673.7 929.4,668.1 925.5,661.3 915.4,656.8 912,646.7 915.4,640 913.2,631 908.7,625.4 898.6,628.8 887.3,635.5 878.4,642.2" fill="#d7e7f1" stroke="#3a3a3a" stroke-width="0.8" stroke-linejoin="round"/><polygon points="893,646.7 898.6,640 900.8,633.3 905.3,627.7 909.8,633.3 908.7,640 913.2,646.7 909.8,660.2 894.1,659.1" fill="#f8f8f8" stroke="#3a3a3a" stroke-width="0.8" stroke-linejoin="round"/><polygon points="824.5,658 840.2,645.1 849.2,655.2 852,661.3 848.6,668.1 840.8,668.6 832.9,674.2 824.5,674.8" fill="#6b6b6b" stroke="#6b6b6b" stroke-width="0.5" stroke-linejoin="round"/><polygon points="824.5,661.3 840.2,649.5 846.9,656.8 848.1,661.9 846.4,665.3 839.6,665.3 831.8,670.9 824.5,671.4" fill="#d15b49" stroke="#3a3a3a" stroke-width="0.5" stroke-linejoin="round"/><polygon points="857,624.2 862.6,623.1 869.4,617.4 878.4,613 887.3,611.8 903.1,608.5 907.5,613 905.3,623.1 903.1,629.8 905.3,636.5 898.6,638.8 893,635.4 882.9,638.8 870.5,641 867.1,632 863.8,628.7" fill="#f8f8f8" stroke="#3a3a3a" stroke-width="0.9" stroke-linejoin="round"/><polygon points="907.5,613 913.2,611.8 912,625.3 914.3,636.5 912,647 908.7,647 903.1,629.8 905.3,623.1" fill="#d7e7f1" stroke="#3a3a3a" stroke-width="0.7" stroke-linejoin="round"/><polygon points="824.5,605.1 832.3,600.6 842.4,607.3 840.2,616.3 826.7,626.4 824.5,626.4" fill="#f7b599" stroke="#3a3a3a" stroke-width="0.7" stroke-linejoin="round"/><polygon points="824.5,611.8 835.7,607.3 839.1,611.8 826.7,623.1" fill="#e98f71" stroke="#3a3a3a" stroke-width="0.6" stroke-linejoin="round"/><polyline points="824.5,627 827.9,625.3 841.3,617.4" fill="none" stroke="#6b6b6b" stroke-width="2.5" stroke-linejoin="round"/><polygon points="954.7,704 965.9,718.6 977.1,733.2 981.6,740 988.4,762.4 997.3,778.2 1000,782.6 1011.2,789.4 1024.7,790.5 1041.5,797.8 1062.9,801.7 1071.8,806.2 1079.7,807.3 1085,812 1089.8,823.1 1086,832 1084.2,840 1080.8,851.2 1076.3,860.2 1082.5,868.1 1078.6,871.4 1071.8,872.5 1062.9,877 1055,885.5 1048.3,882.6 1040.4,886.6 1029.2,883.8 1015.7,888.3 1004.1,890.5 995.1,892.2 977.1,906.2 963.7,914.1 955.8,907.3 943.5,905.1 932.2,906.2 925.5,914.1 900.8,914.6 889.6,917.4 873.9,920.2 862.6,917.4 851.4,907.3 839.6,890.5 842.4,877 843.6,856.8 838,840 832.3,833.2 824.3,828 824.3,691.6 840.2,690.5 854.8,706.2 862.6,707.3 870.5,715.2 894.1,716.3 903.1,707.3 924.4,708.5 932.2,702.9 932.2,696.1 936.7,692.7" fill="#fce0d0" stroke="#3a3a3a" stroke-width="0.9" stroke-linejoin="round"/><polygon points="949.1,704 958,716.3 960.3,729.8 960.9,740 962.5,754.6 969.3,766.4 963.7,773.7 972.6,788.3 966.5,797.8 976,805.1 975.4,813 978.3,816.9 981.6,813 981.6,806.2 986.1,804.5 994,807.9 1004.1,805.7 1009,804.5 1018,807.3 1031.4,801.7 1044.9,805.7 1060.6,807.9 1071.8,813 1079.7,809.6 1085,813 1088,823 1083,835 1078.6,840 1076.3,851.2 1066.2,864.7 1056.1,872.5 1042.6,877.6 1022.4,877 1005.2,877 986.1,875.9 970.4,878.7 961.4,875.9 954.7,865.8 947.9,858 945.7,866.9 940.1,872.5 934.5,889.4 927.7,900.6 918.8,907.3 900.8,911.8 882.8,914.1 872.7,913 862.1,904.5 851.4,892.8 847.5,884.3 853.7,873.7 854.8,851.2 848.1,840 842.4,835.4 831.2,824.2 824.3,821 824.3,691.6 840.2,690.5 854.8,706.2 862.6,707.3 870.5,715.2 894.1,716.3 903.1,707.3 924.4,708.5 932.2,702.9 932.2,696.1 936.7,692.7" fill="#f7b599" stroke="#3a3a3a" stroke-width="0.9" stroke-linejoin="round"/><polygon points="954.7,804.5 958,802.9 964.8,803.4 965.9,806.2 962.5,809.4 956.4,807.3" fill="#fce0d0" stroke="#3a3a3a" stroke-width="0.7" stroke-linejoin="round"/><polygon points="942.3,702.9 944.6,713 943.5,727.5 940.1,738.8 941.2,740 932.2,746.7 925.5,750.1 918.8,758 906.4,759.1 899.7,766.9 897.4,773.7 894.1,775.4 885.1,771.4 878.4,772 857,790.5 850.3,802.8 836.8,814.1 824.3,817.4 824.3,691.6 840.2,690.5 854.8,706.2 862.6,707.3 870.5,715.2 894.1,716.3 903.1,707.3 924.4,708.5 932.2,702.9 932.2,696.1 936.7,692.7" fill="#e98f71" stroke="#3a3a3a" stroke-width="0.9" stroke-linejoin="round"/><polygon points="932.2,707.3 927.7,714.1 916.5,718.6 905.3,725.3 894.1,733.2 886.2,740 870.5,754.6 848.1,773.7 836.8,790.5 833.5,801.7 824.3,813 824.3,691.6 840.2,690.5 854.8,706.2 862.6,707.3 870.5,715.2 894.1,716.3 903.1,707.3 924.4,708.5 932.2,702.9 932.2,696.1 936.7,692.7" fill="#d15b49" stroke="#3a3a3a" stroke-width="0.9" stroke-linejoin="round"/><polygon points="877.2,844.5 879.5,842.2 903.1,850.1 909.8,849 912.6,852.3 909.8,860.2 913.2,877 919.3,899.5 916.5,901.7 908.7,904 901.9,908.5 887.3,910.7 878.4,910.1 869.4,905.1 861.5,893.9 867.1,873.7 869.4,860.2 879.5,853.5" fill="#e98f71" stroke="#3a3a3a" stroke-width="0.9" stroke-linejoin="round"/><polygon points="1009,823.1 1030.3,813 1048.3,814.6 1056.1,812.4 1071.8,817.4 1080.8,813 1085.3,818.6 1089.8,823.1 1086.4,829.8 1081.9,835.4 1078.6,847 1071.8,847.9 1065.1,859.1 1056.1,866.9 1044.9,870.9 1025.8,871.4 1012.3,869.2 1000,865.8 1004.1,863.6 995.1,858 991.7,846.7 991.7,847 995.1,838.8 1004.1,825.3 1020,818.6" fill="#e98f71" stroke="#3a3a3a" stroke-width="0.9" stroke-linejoin="round"/><polygon points="1044,835 1052,829 1063,828 1058,834 1050,842" fill="#d15b49" stroke="#3a3a3a" stroke-width="0.5" stroke-linejoin="round"/><polygon points="1084.2,814.1 1087.5,807.3 1095.4,802.9 1101.6,805.7 1101,811.8 1095.4,817.4 1088.7,816.3" fill="#acd0e6" stroke="#3a3a3a" stroke-width="0.7" stroke-linejoin="round"/><polygon points="1086.4,811.8 1089.8,808.5 1095.4,810.7 1096.5,814.1 1089.8,815.2" fill="#3e8ac0" stroke="#3a3a3a" stroke-width="0.6" stroke-linejoin="round"/><polygon points="824.5,902.9 832.3,909.6 839.1,923.1 834.6,939 824.5,939" fill="#fce0d0" stroke="#3a3a3a" stroke-width="0.7" stroke-linejoin="round"/><polygon points="824.5,907.3 830.1,913 835.7,924.2 832.3,939 824.5,939" fill="#f7b599" stroke="#3a3a3a" stroke-width="0.6" stroke-linejoin="round"/><polygon points="824.5,920.8 831.2,923.1 830.1,929.8 826.7,939 824.5,939" fill="#e98f71" stroke="#3a3a3a" stroke-width="0.6" stroke-linejoin="round"/><polygon points="824.5,910.7 831.2,915.2 826.7,919.7 824.5,918.6" fill="#4a6f8f" stroke="#6b6b6b" stroke-width="1.2" stroke-linejoin="round"/><polygon points="926,575 960,568 1000,561.3 1019.1,557.4 1038.2,556.8 1048.3,565.8 1060.6,569.7 1071.8,569.7 1078.6,564.7 1094,556 1105,548 1110,546.3 1116,546.3 1123.5,556.8 1123.5,562.4 1116.7,575.9 1112.2,584.9 1101,592.7 1089.8,602.9 1078.6,611.8 1071.8,625.3 1067.3,630.9 1062,636 1052,644 1024,645 1011,634 990,618 926,618" fill="#fce0d0" stroke="#3a3a3a" stroke-width="0.9" stroke-linejoin="round"/><polygon points="926,582 960,574 1000,566 1016.8,562.4 1025.8,564.1 1039.3,577 1053.9,583.2 1066.2,579.3 1073,571.4 1079,565 1094,556 1106,548 1113,548 1119,557 1119,562.4 1113,575.9 1109,584.9 1098,592.7 1087,602.9 1076,611.8 1069.5,625.3 1065,630.9 1060,636 1052,644 1024,645 1011,634 990,618 926,618" fill="#f7b599" stroke="#3a3a3a" stroke-width="0.7" stroke-linejoin="round"/><polygon points="926,590 960,582 1000,572.5 1018,569.2 1033.7,584.9 1048.3,595.6 1060.6,592.2 1069.6,584.9 1074.1,572.5 1079.7,566.9 1094,557 1107,549 1111,549 1115,557 1115,562.4 1110,575.9 1106,584.9 1095,592.7 1084,602.9 1073.5,611.8 1067,625.3 1063,630.9 1058,636 1052,644 1024,645 1011,634 990,618 926,618" fill="#e98f71" stroke="#3a3a3a" stroke-width="0.9" stroke-linejoin="round"/><polygon points="926,608 1000,599.5 1011.2,602.9 1032.5,611.8 1044.9,621.9 1052.7,632 1048.3,641 1022.4,641.6 1011,632 1000,622 926,622" fill="#d15b49" stroke="#3a3a3a" stroke-width="0.9" stroke-linejoin="round"/><polygon points="1057.2,633.2 1064,623.6 1064,633.2" fill="#d15b49" stroke="#3a3a3a" stroke-width="0.7" stroke-linejoin="round"/><polygon points="1078.6,577 1089.8,573.7 1101,564.7 1110,554.6 1111.1,562.4 1106.6,573.7 1098.8,584.9 1092,591.6 1086.4,593.9 1080.8,586" fill="#d15b49" stroke="#3a3a3a" stroke-width="0.9" stroke-linejoin="round"/><polyline points="1000,622 1011,634 1023.5,643.5 1049,643 1056,636.5 1066,632" fill="none" stroke="#6b6b6b" stroke-width="3.2" stroke-linejoin="round"/><polygon points="1067.3,552.3 1069.6,546.4 1095.4,546.4 1086.4,556.8 1078.6,563.6 1073,561.3" fill="#d7e7f1" stroke="#3a3a3a" stroke-width="0.7" stroke-linejoin="round"/><polygon points="1078.6,562.4 1093.2,546.7 1105.5,547.3 1106.6,553.5 1087.5,573.7 1081.9,571.4" fill="#6b6b6b" stroke="#888" stroke-width="1" stroke-linejoin="round"/><polygon points="1081.9,562.4 1094.3,549.5 1103.3,550.1 1103.8,553.5 1088.7,570.3 1084.2,568.6" fill="#3e8ac0" stroke="#3a3a3a" stroke-width="0.5" stroke-linejoin="round"/><polygon points="1085.3,562.4 1088.7,559.1 1093.2,560.2 1092,565.8 1087.5,568.1" fill="#0a4e9e" stroke="#3a3a3a" stroke-width="0.5" stroke-linejoin="round"/><polygon points="1064,635.4 1071.8,630.9 1078.6,633.2 1083.1,647 1062.9,647" fill="#acd0e6" stroke="#3a3a3a" stroke-width="0.7" stroke-linejoin="round"/><polygon points="1062.9,638.8 1069.6,635.4 1073,641 1069.6,647 1056.1,647" fill="#3e8ac0" stroke="#3a3a3a" stroke-width="0.6" stroke-linejoin="round"/><polyline points="824.5,690.3 840.2,689.2 854.8,704.9 862.6,706 870.5,713.8 894.1,715 903.1,706 924.4,707.1 931.7,702 931.7,695.6 936.7,692.2" fill="none" stroke="#6b6b6b" stroke-width="3.2" stroke-linejoin="round"/><polygon points="833.5,727 840.2,720.2 847.5,727 840.2,733.7" fill="#6f8496" stroke="#6b6b6b" stroke-width="2" stroke-linejoin="round"/><polygon points="824.5,729.8 832.3,730.9 840.2,737.6 848.1,737.6 854.2,742.7 853.7,743.8 824.5,768.5" fill="#0a4e9e" stroke="#6b6b6b" stroke-width="3" stroke-linejoin="round"/><polyline points="825.1,766.4 853.1,742.8" fill="none" stroke="#e8eef4" stroke-width="1.6" stroke-linejoin="round"/></g><rect x="824.3" y="546.3" width="761.5" height="392.70000000000005" fill="none" stroke="#5a5a5a" stroke-width="1"/><line x1="952.6" y1="546.3" x2="952.6" y2="556.3" stroke="#555" stroke-width="1"/><line x1="952.6" y1="939" x2="952.6" y2="929" stroke="#555" stroke-width="1"/><line x1="1080.9" y1="546.3" x2="1080.9" y2="556.3" stroke="#555" stroke-width="1"/><line x1="1080.9" y1="939" x2="1080.9" y2="929" stroke="#555" stroke-width="1"/><line x1="1209.2" y1="546.3" x2="1209.2" y2="556.3" stroke="#555" stroke-width="1"/><line x1="1209.2" y1="939" x2="1209.2" y2="929" stroke="#555" stroke-width="1"/><line x1="1337.5" y1="546.3" x2="1337.5" y2="556.3" stroke="#555" stroke-width="1"/><line x1="1337.5" y1="939" x2="1337.5" y2="929" stroke="#555" stroke-width="1"/><line x1="1465.8" y1="546.3" x2="1465.8" y2="556.3" stroke="#555" stroke-width="1"/><line x1="1465.8" y1="939" x2="1465.8" y2="929" stroke="#555" stroke-width="1"/><line x1="814.3" y1="611.7" x2="824.3" y2="611.7" stroke="#555" stroke-width="1"/><line x1="1585.8" y1="611.7" x2="1595.8" y2="611.7" stroke="#555" stroke-width="1"/><line x1="814.3" y1="742.3" x2="824.3" y2="742.3" stroke="#555" stroke-width="1"/><line x1="1585.8" y1="742.3" x2="1595.8" y2="742.3" stroke="#555" stroke-width="1"/><line x1="814.3" y1="873" x2="824.3" y2="873" stroke="#555" stroke-width="1"/><line x1="1585.8" y1="873" x2="1595.8" y2="873" stroke="#555" stroke-width="1"/><text x="824.3" y="957" font-size="17.5" text-anchor="middle">-0.015</text><text x="952.6" y="957" font-size="17.5" text-anchor="middle">-0.01</text><text x="1080.9" y="957" font-size="17.5" text-anchor="middle">-0.005</text><text x="1209.2" y="957" font-size="17.5" text-anchor="middle">0</text><text x="1337.5" y="957" font-size="17.5" text-anchor="middle">0.005</text><text x="1465.8" y="957" font-size="17.5" text-anchor="middle">0.01</text><text x="812" y="617.6" font-size="17.5" text-anchor="end">0.005</text><text x="812" y="748.2" font-size="17.5" text-anchor="end">0</text><text x="812" y="878.9" font-size="17.5" text-anchor="end">-0.005</text><g transform="translate(894.1,564.3) rotate(20)"><text x="0" y="5.94" text-anchor="middle" font-size="18" fill="#000" stroke="#000" stroke-width="0.7" stroke-linejoin="round">0</text></g><g transform="translate(855.3,575.7) rotate(40)"><text x="0" y="5.94" text-anchor="middle" font-size="18" fill="#000" stroke="#000" stroke-width="0.7" stroke-linejoin="round">0</text></g><g transform="translate(871.3,601.3) rotate(10)"><text x="0" y="5.94" text-anchor="middle" font-size="18" fill="#000" stroke="#000" stroke-width="0.7" stroke-linejoin="round">-20</text></g><g transform="translate(871.3,617.3) rotate(40)"><text x="0" y="5.94" text-anchor="middle" font-size="18" fill="#000" stroke="#000" stroke-width="0.7" stroke-linejoin="round">0</text></g><g transform="translate(1007,562) rotate(-15)"><text x="0" y="5.94" text-anchor="middle" font-size="18" fill="#000" stroke="#000" stroke-width="0.7" stroke-linejoin="round">20</text></g><g transform="translate(1095,565.7) rotate(60)"><text x="0" y="5.94" text-anchor="middle" font-size="18" fill="#000" stroke="#000" stroke-width="0.7" stroke-linejoin="round">80</text></g><g transform="translate(1092,563) rotate(55)"><text x="0" y="5.94" text-anchor="middle" font-size="18" fill="#000" stroke="#000" stroke-width="0.7" stroke-linejoin="round">-80</text></g><g transform="translate(1118,574) rotate(-65)"><text x="0" y="5.94" text-anchor="middle" font-size="18" fill="#000" stroke="#000" stroke-width="0.7" stroke-linejoin="round">20</text></g><g transform="translate(1134,607.7) rotate(50)"><text x="0" y="5.94" text-anchor="middle" font-size="18" fill="#000" stroke="#000" stroke-width="0.7" stroke-linejoin="round">0</text></g><g transform="translate(1013,632) rotate(60)"><text x="0" y="5.94" text-anchor="middle" font-size="18" fill="#000" stroke="#000" stroke-width="0.7" stroke-linejoin="round">40</text></g><g transform="translate(1017,636) rotate(55)"><text x="0" y="5.94" text-anchor="middle" font-size="18" fill="#000" stroke="#000" stroke-width="0.7" stroke-linejoin="round">80</text></g><g transform="translate(1044,654.7) rotate(20)"><text x="0" y="5.94" text-anchor="middle" font-size="18" fill="#000" stroke="#000" stroke-width="0.7" stroke-linejoin="round">-80</text></g><g transform="translate(1054,657) rotate(-50)"><text x="0" y="5.94" text-anchor="middle" font-size="18" fill="#000" stroke="#000" stroke-width="0.7" stroke-linejoin="round">-60</text></g><g transform="translate(854.4,661.6) rotate(40)"><text x="0" y="5.94" text-anchor="middle" font-size="18" fill="#000" stroke="#000" stroke-width="0.7" stroke-linejoin="round">0</text></g><g transform="translate(967.2,679) rotate(75)"><text x="0" y="5.94" text-anchor="middle" font-size="18" fill="#000" stroke="#000" stroke-width="0.7" stroke-linejoin="round">-20</text></g><g transform="translate(940.7,659.3) rotate(-70)"><text x="0" y="5.94" text-anchor="middle" font-size="18" fill="#000" stroke="#000" stroke-width="0.7" stroke-linejoin="round">0</text></g><g transform="translate(846.2,698) rotate(30)"><text x="0" y="5.94" text-anchor="middle" font-size="18" fill="#000" stroke="#000" stroke-width="0.7" stroke-linejoin="round">0</text></g><g transform="translate(893.2,698) rotate(0)"><text x="0" y="5.94" text-anchor="middle" font-size="18" fill="#000" stroke="#000" stroke-width="0.7" stroke-linejoin="round">-60</text></g><g transform="translate(946,693) rotate(70)"><text x="0" y="5.94" text-anchor="middle" font-size="18" fill="#000" stroke="#000" stroke-width="0.7" stroke-linejoin="round">80</text></g><g transform="translate(950,694) rotate(75)"><text x="0" y="5.94" text-anchor="middle" font-size="18" fill="#000" stroke="#000" stroke-width="0.7" stroke-linejoin="round">40</text></g><g transform="translate(953,696) rotate(80)"><text x="0" y="5.94" text-anchor="middle" font-size="18" fill="#000" stroke="#000" stroke-width="0.7" stroke-linejoin="round">20</text></g><g transform="translate(905.6,726.4) rotate(-35)"><text x="0" y="5.94" text-anchor="middle" font-size="18" fill="#000" stroke="#000" stroke-width="0.7" stroke-linejoin="round">80</text></g><g transform="translate(838,753) rotate(60)"><text x="0" y="5.94" text-anchor="middle" font-size="18" fill="#000" stroke="#000" stroke-width="0.7" stroke-linejoin="round">80</text></g><g transform="translate(841,757) rotate(-30)"><text x="0" y="5.94" text-anchor="middle" font-size="18" fill="#000" stroke="#000" stroke-width="0.7" stroke-linejoin="round">40</text></g><g transform="translate(839,756) rotate(10)"><text x="0" y="5.94" text-anchor="middle" font-size="18" fill="#000" stroke="#000" stroke-width="0.7" stroke-linejoin="round">0</text></g><g transform="translate(840,754) rotate(80)"><text x="0" y="5.94" text-anchor="middle" font-size="18" fill="#000" stroke="#000" stroke-width="0.7" stroke-linejoin="round">-60</text></g><g transform="translate(1055.3,774.8) rotate(20)"><text x="0" y="5.94" text-anchor="middle" font-size="18" fill="#000" stroke="#000" stroke-width="0.7" stroke-linejoin="round">0</text></g><g transform="translate(1155.4,790.3) rotate(-40)"><text x="0" y="5.94" text-anchor="middle" font-size="18" fill="#000" stroke="#000" stroke-width="0.7" stroke-linejoin="round">-20</text></g><g transform="translate(1000.6,834.2) rotate(-60)"><text x="0" y="5.94" text-anchor="middle" font-size="18" fill="#000" stroke="#000" stroke-width="0.7" stroke-linejoin="round">60</text></g><g transform="translate(1055.3,841) rotate(-50)"><text x="0" y="5.94" text-anchor="middle" font-size="18" fill="#000" stroke="#000" stroke-width="0.7" stroke-linejoin="round">80</text></g><g transform="translate(1084.6,830.5) rotate(-60)"><text x="0" y="5.94" text-anchor="middle" font-size="18" fill="#000" stroke="#000" stroke-width="0.7" stroke-linejoin="round">40</text></g><g transform="translate(865.4,879.4) rotate(-75)"><text x="0" y="5.94" text-anchor="middle" font-size="18" fill="#000" stroke="#000" stroke-width="0.7" stroke-linejoin="round">60</text></g><g transform="translate(861.3,904.5) rotate(50)"><text x="0" y="5.94" text-anchor="middle" font-size="18" fill="#000" stroke="#000" stroke-width="0.7" stroke-linejoin="round">40</text></g><g transform="translate(1015.2,887.6) rotate(-15)"><text x="0" y="5.94" text-anchor="middle" font-size="18" fill="#000" stroke="#000" stroke-width="0.7" stroke-linejoin="round">20</text></g><g transform="translate(1079.1,912.7) rotate(-10)"><text x="0" y="5.94" text-anchor="middle" font-size="18" fill="#000" stroke="#000" stroke-width="0.7" stroke-linejoin="round">0</text></g><g transform="translate(1324.7,648.8) rotate(20)"><text x="0" y="5.94" text-anchor="middle" font-size="18" fill="#000" stroke="#000" stroke-width="0.7" stroke-linejoin="round">0</text></g><g transform="translate(1477.7,586.2) rotate(35)"><text x="0" y="5.94" text-anchor="middle" font-size="18" fill="#000" stroke="#000" stroke-width="0.7" stroke-linejoin="round">0</text></g><g transform="translate(1569.5,555.6) rotate(-15)"><text x="0" y="5.94" text-anchor="middle" font-size="18" fill="#000" stroke="#000" stroke-width="0.7" stroke-linejoin="round">0</text></g><g transform="translate(1571.8,579.4) rotate(0)"><text x="0" y="5.94" text-anchor="middle" font-size="18" fill="#000" stroke="#000" stroke-width="0.7" stroke-linejoin="round">0</text></g><g transform="translate(1571.8,634.2) rotate(-10)"><text x="0" y="5.94" text-anchor="middle" font-size="18" fill="#000" stroke="#000" stroke-width="0.7" stroke-linejoin="round">0</text></g><g transform="translate(1571.8,643.3) rotate(-50)"><text x="0" y="5.94" text-anchor="middle" font-size="18" fill="#000" stroke="#000" stroke-width="0.7" stroke-linejoin="round">0</text></g><g transform="translate(1540.7,666.1) rotate(30)"><text x="0" y="5.94" text-anchor="middle" font-size="18" fill="#000" stroke="#000" stroke-width="0.7" stroke-linejoin="round">0</text></g><g transform="translate(1569,743.7) rotate(0)"><text x="0" y="5.94" text-anchor="middle" font-size="18" fill="#000" stroke="#000" stroke-width="0.7" stroke-linejoin="round">0</text></g><g transform="translate(1570.4,779.4) rotate(-20)"><text x="0" y="5.94" text-anchor="middle" font-size="18" fill="#000" stroke="#000" stroke-width="0.7" stroke-linejoin="round">0</text></g><g transform="translate(1275.9,823.7) rotate(-45)"><text x="0" y="5.94" text-anchor="middle" font-size="18" fill="#000" stroke="#000" stroke-width="0.7" stroke-linejoin="round">-40</text></g><g transform="translate(1217.9,857.9) rotate(-25)"><text x="0" y="5.94" text-anchor="middle" font-size="18" fill="#000" stroke="#000" stroke-width="0.7" stroke-linejoin="round">-20</text></g><g transform="translate(1249.4,865.7) rotate(-30)"><text x="0" y="5.94" text-anchor="middle" font-size="18" fill="#000" stroke="#000" stroke-width="0.7" stroke-linejoin="round">-60</text></g><g transform="translate(1257.6,884.4) rotate(-25)"><text x="0" y="5.94" text-anchor="middle" font-size="18" fill="#000" stroke="#000" stroke-width="0.7" stroke-linejoin="round">-80</text></g><g transform="translate(1263.1,920.9) rotate(-60)"><text x="0" y="5.94" text-anchor="middle" font-size="18" fill="#000" stroke="#000" stroke-width="0.7" stroke-linejoin="round">80</text></g><g transform="translate(1326.1,907.2) rotate(-5)"><text x="0" y="5.94" text-anchor="middle" font-size="18" fill="#000" stroke="#000" stroke-width="0.7" stroke-linejoin="round">-20</text></g><g transform="translate(1451.2,869.3) rotate(-5)"><text x="0" y="5.94" text-anchor="middle" font-size="18" fill="#000" stroke="#000" stroke-width="0.7" stroke-linejoin="round">0</text></g><g transform="translate(1402.4,915) rotate(45)"><text x="0" y="5.94" text-anchor="middle" font-size="18" fill="#000" stroke="#000" stroke-width="0.7" stroke-linejoin="round">0</text></g><g transform="translate(1458.5,924.1) rotate(50)"><text x="0" y="5.94" text-anchor="middle" font-size="18" fill="#000" stroke="#000" stroke-width="0.7" stroke-linejoin="round">0</text></g><g transform="translate(1562.6,903.6) rotate(-25)"><text x="0" y="5.94" text-anchor="middle" font-size="18" fill="#000" stroke="#000" stroke-width="0.7" stroke-linejoin="round">0</text></g><rect x="926" y="567" width="75.3" height="55" fill="#fff"/><circle cx="909.7" cy="597" r="12.9" fill="#6e8636"/><text x="943.3" y="601.3" font-size="21" fill="#6e8636">-2.4°</text><rect x="975" y="661.6" width="58.6" height="45.4" fill="#fff"/><circle cx="947.4" cy="670.9" r="13.2" fill="#7c5c9e"/><text x="983.2" y="690.8" font-size="21" fill="#7c5c9e">-3.8°</text>
</svg>
</body></html>
